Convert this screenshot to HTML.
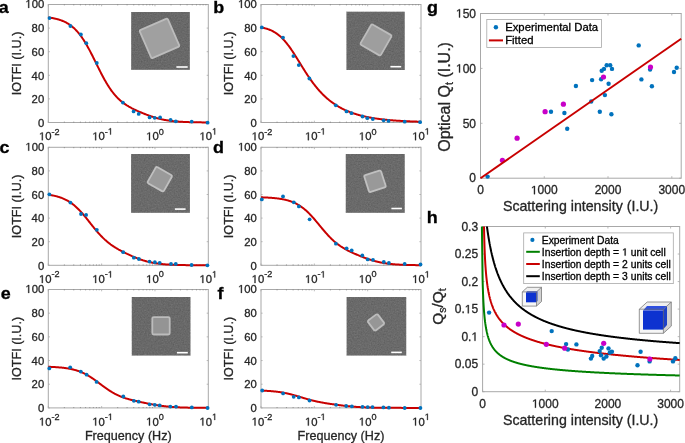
<!DOCTYPE html>
<html><head><meta charset="utf-8"><style>
html,body{margin:0;padding:0;background:#fff;}
body{width:685px;height:443px;overflow:hidden;}
svg{display:block;will-change:transform;}
text{font-family:"Liberation Sans", sans-serif;stroke:currentColor;stroke-width:0.3px;}
body{-webkit-font-smoothing:antialiased;}
</style></head><body>
<svg width="685" height="443" viewBox="0 0 685 443">
<defs><filter id="bl" x="-20%" y="-20%" width="140%" height="140%"><feGaussianBlur stdDeviation="0.75"/></filter><filter id="nz" x="0" y="0" width="100%" height="100%" color-interpolation-filters="sRGB"><feTurbulence type="fractalNoise" baseFrequency="0.7" numOctaves="2" seed="4"/><feColorMatrix type="matrix" values="0.33 0.33 0.33 0 0 0.33 0.33 0.33 0 0 0.33 0.33 0.33 0 0 0 0 0 0 0.2"/></filter></defs>
<rect width="685" height="443" fill="#fff"/>
<rect x="48.3" y="4.5" width="160" height="118" fill="none" stroke="#a8a8a8" stroke-width="1"/>
<path d="M48.3 122.5h1.6M208.3 122.5h-1.6M48.3 98.9h1.6M208.3 98.9h-1.6M48.3 75.3h1.6M208.3 75.3h-1.6M48.3 51.7h1.6M208.3 51.7h-1.6M48.3 28.1h1.6M208.3 28.1h-1.6M48.3 4.5h1.6M208.3 4.5h-1.6M48.3 122.5v-1.8M48.3 4.5v1.8M101.63 122.5v-1.8M101.63 4.5v1.8M154.97 122.5v-1.8M154.97 4.5v1.8" stroke="#a8a8a8" stroke-width="0.8" fill="none"/>
<path d="M64.35 122.7v-1.1M64.35 4.3v1.1M73.75 122.7v-1.1M73.75 4.3v1.1M80.41 122.7v-1.1M80.41 4.3v1.1M85.58 122.7v-1.1M85.58 4.3v1.1M89.8 122.7v-1.1M89.8 4.3v1.1M93.37 122.7v-1.1M93.37 4.3v1.1M96.46 122.7v-1.1M96.46 4.3v1.1M99.19 122.7v-1.1M99.19 4.3v1.1M117.69 122.7v-1.1M117.69 4.3v1.1M127.08 122.7v-1.1M127.08 4.3v1.1M133.74 122.7v-1.1M133.74 4.3v1.1M138.91 122.7v-1.1M138.91 4.3v1.1M143.13 122.7v-1.1M143.13 4.3v1.1M146.71 122.7v-1.1M146.71 4.3v1.1M149.8 122.7v-1.1M149.8 4.3v1.1M152.53 122.7v-1.1M152.53 4.3v1.1M171.02 122.7v-1.1M171.02 4.3v1.1M180.41 122.7v-1.1M180.41 4.3v1.1M187.08 122.7v-1.1M187.08 4.3v1.1M192.25 122.7v-1.1M192.25 4.3v1.1M196.47 122.7v-1.1M196.47 4.3v1.1M200.04 122.7v-1.1M200.04 4.3v1.1M203.13 122.7v-1.1M203.13 4.3v1.1M205.86 122.7v-1.1M205.86 4.3v1.1" stroke="#7c7c7c" stroke-width="0.7" fill="none"/>
<text x="44.2" y="126.7" font-size="11.3" text-anchor="end" font-weight="normal" fill="#262626" color="#262626" >0</text>
<text x="44.2" y="103.1" font-size="11.3" text-anchor="end" font-weight="normal" fill="#262626" color="#262626" >20</text>
<text x="44.2" y="79.5" font-size="11.3" text-anchor="end" font-weight="normal" fill="#262626" color="#262626" >40</text>
<text x="44.2" y="55.9" font-size="11.3" text-anchor="end" font-weight="normal" fill="#262626" color="#262626" >60</text>
<text x="44.2" y="32.3" font-size="11.3" text-anchor="end" font-weight="normal" fill="#262626" color="#262626" >80</text>
<text x="25.35" y="7.9" font-size="11.3" font-weight="normal" fill="#262626" color="#262626" > 00</text>
<path d="M515 0L515 1237L197 1010L197 1180L530 1409L696 1409L696 0Z" transform="translate(25.35,7.9) scale(0.00552,-0.00552)" fill="#262626" stroke="#262626" stroke-width="0.3" vector-effect="non-scaling-stroke"/>
<text x="38.97" y="140.2" font-size="11.3" font-weight="normal" fill="#262626" color="#262626" > 0</text>
<path d="M515 0L515 1237L197 1010L197 1180L530 1409L696 1409L696 0Z" transform="translate(38.97,140.2) scale(0.00552,-0.00552)" fill="#262626" stroke="#262626" stroke-width="0.3" vector-effect="non-scaling-stroke"/>
<text x="51.54" y="134.6" font-size="9.1" text-anchor="start" font-weight="normal" fill="#262626" color="#262626" >-2</text>
<text x="92.31" y="140.2" font-size="11.3" font-weight="normal" fill="#262626" color="#262626" > 0</text>
<path d="M515 0L515 1237L197 1010L197 1180L530 1409L696 1409L696 0Z" transform="translate(92.31,140.2) scale(0.00552,-0.00552)" fill="#262626" stroke="#262626" stroke-width="0.3" vector-effect="non-scaling-stroke"/>
<text x="104.87" y="134.6" font-size="9.1" font-weight="normal" fill="#262626" color="#262626" >- </text>
<path d="M515 0L515 1237L197 1010L197 1180L530 1409L696 1409L696 0Z" transform="translate(107.9,134.6) scale(0.00444,-0.00444)" fill="#262626" stroke="#262626" stroke-width="0.3" vector-effect="non-scaling-stroke"/>
<text x="146.15" y="140.2" font-size="11.3" font-weight="normal" fill="#262626" color="#262626" > 0</text>
<path d="M515 0L515 1237L197 1010L197 1180L530 1409L696 1409L696 0Z" transform="translate(146.15,140.2) scale(0.00552,-0.00552)" fill="#262626" stroke="#262626" stroke-width="0.3" vector-effect="non-scaling-stroke"/>
<text x="158.72" y="134.6" font-size="9.1" text-anchor="start" font-weight="normal" fill="#262626" color="#262626" >0</text>
<text x="199.49" y="140.2" font-size="11.3" font-weight="normal" fill="#262626" color="#262626" > 0</text>
<path d="M515 0L515 1237L197 1010L197 1180L530 1409L696 1409L696 0Z" transform="translate(199.49,140.2) scale(0.00552,-0.00552)" fill="#262626" stroke="#262626" stroke-width="0.3" vector-effect="non-scaling-stroke"/>
<text x="212.05" y="134.6" font-size="9.1" font-weight="normal" fill="#262626" color="#262626" > </text>
<path d="M515 0L515 1237L197 1010L197 1180L530 1409L696 1409L696 0Z" transform="translate(212.05,134.6) scale(0.00444,-0.00444)" fill="#262626" stroke="#262626" stroke-width="0.3" vector-effect="non-scaling-stroke"/>
<text x="0" y="0" font-size="12.6" text-anchor="middle" fill="#262626" color="#262626" transform="translate(20.6,63.5) rotate(-90)">IOTFI (I.U.)</text>
<rect x="131.2" y="12" width="58.6" height="57.8" fill="#636363"/>
<rect x="131.2" y="12" width="58.6" height="57.8" fill="#808080" filter="url(#nz)"/>
<g filter="url(#bl)"><rect x="-15.3" y="-15.3" width="30.6" height="30.6" rx="1.5" fill="#a0a0a0" stroke="#bcbcbc" stroke-width="1.8" transform="translate(159.5,38.4) rotate(-23.5)"/></g>
<rect x="176.4" y="66.2" width="11.3" height="1.6" fill="#ffffff"/>
<polyline points="48.3,17.45 48.83,17.52 49.37,17.59 49.9,17.66 50.43,17.74 50.97,17.83 51.5,17.92 52.03,18.01 52.57,18.1 53.1,18.2 53.63,18.31 54.17,18.41 54.7,18.53 55.23,18.65 55.77,18.77 56.3,18.9 56.83,19.03 57.37,19.17 57.9,19.32 58.43,19.47 58.97,19.63 59.5,19.8 60.03,19.98 60.57,20.16 61.1,20.35 61.63,20.55 62.17,20.75 62.7,20.97 63.23,21.19 63.77,21.42 64.3,21.67 64.83,21.92 65.37,22.18 65.9,22.45 66.43,22.74 66.97,23.04 67.5,23.34 68.03,23.66 68.57,24 69.1,24.34 69.63,24.7 70.17,25.08 70.7,25.46 71.23,25.86 71.77,26.28 72.3,26.71 72.83,27.16 73.37,27.62 73.9,28.1 74.43,28.6 74.97,29.11 75.5,29.64 76.03,30.19 76.57,30.75 77.1,31.34 77.63,31.94 78.17,32.56 78.7,33.2 79.23,33.86 79.77,34.53 80.3,35.23 80.83,35.95 81.37,36.68 81.9,37.43 82.43,38.21 82.97,39 83.5,39.81 84.03,40.64 84.57,41.49 85.1,42.35 85.63,43.24 86.17,44.14 86.7,45.05 87.23,45.99 87.77,46.94 88.3,47.9 88.83,48.88 89.37,49.87 89.9,50.88 90.43,51.89 90.97,52.92 91.5,53.96 92.03,55.01 92.57,56.06 93.1,57.12 93.63,58.19 94.17,59.27 94.7,60.35 95.23,61.43 95.77,62.51 96.3,63.6 96.83,64.68 97.37,65.76 97.9,66.84 98.43,67.92 98.97,68.99 99.5,70.05 100.03,71.11 100.57,72.16 101.1,73.2 101.63,74.23 102.17,75.25 102.7,76.26 103.23,77.25 103.77,78.24 104.3,79.21 104.83,80.16 105.37,81.1 105.9,82.03 106.43,82.93 106.97,83.82 107.5,84.7 108.03,85.56 108.57,86.4 109.1,87.22 109.63,88.02 110.17,88.81 110.7,89.58 111.23,90.33 111.77,91.06 112.3,91.77 112.83,92.47 113.37,93.15 113.9,93.81 114.43,94.45 114.97,95.08 115.5,95.69 116.03,96.28 116.57,96.86 117.1,97.42 117.63,97.97 118.17,98.5 118.7,99.01 119.23,99.51 119.77,100 120.3,100.47 120.83,100.93 121.37,101.38 121.9,101.82 122.43,102.24 122.97,102.65 123.5,103.05 124.03,103.44 124.57,103.82 125.1,104.19 125.63,104.55 126.17,104.91 126.7,105.25 127.23,105.59 127.77,105.91 128.3,106.23 128.83,106.55 129.37,106.85 129.9,107.15 130.43,107.45 130.97,107.74 131.5,108.02 132.03,108.3 132.57,108.57 133.1,108.84 133.63,109.11 134.17,109.37 134.7,109.63 135.23,109.88 135.77,110.13 136.3,110.38 136.83,110.62 137.37,110.87 137.9,111.1 138.43,111.34 138.97,111.58 139.5,111.81 140.03,112.04 140.57,112.26 141.1,112.49 141.63,112.71 142.17,112.93 142.7,113.15 143.23,113.37 143.77,113.59 144.3,113.8 144.83,114.01 145.37,114.22 145.9,114.43 146.43,114.63 146.97,114.83 147.5,115.03 148.03,115.23 148.57,115.43 149.1,115.62 149.63,115.81 150.17,116 150.7,116.18 151.23,116.37 151.77,116.55 152.3,116.72 152.83,116.9 153.37,117.07 153.9,117.23 154.43,117.4 154.97,117.56 155.5,117.72 156.03,117.87 156.57,118.02 157.1,118.17 157.63,118.32 158.17,118.46 158.7,118.6 159.23,118.73 159.77,118.86 160.3,118.99 160.83,119.12 161.37,119.24 161.9,119.36 162.43,119.47 162.97,119.58 163.5,119.69 164.03,119.8 164.57,119.9 165.1,120 165.63,120.09 166.17,120.18 166.7,120.27 167.23,120.36 167.77,120.44 168.3,120.53 168.83,120.6 169.37,120.68 169.9,120.75 170.43,120.82 170.97,120.89 171.5,120.96 172.03,121.02 172.57,121.08 173.1,121.14 173.63,121.19 174.17,121.25 174.7,121.3 175.23,121.35 175.77,121.4 176.3,121.44 176.83,121.49 177.37,121.53 177.9,121.57 178.43,121.61 178.97,121.65 179.5,121.69 180.03,121.72 180.57,121.75 181.1,121.79 181.63,121.82 182.17,121.85 182.7,121.87 183.23,121.9 183.77,121.93 184.3,121.95 184.83,121.98 185.37,122 185.9,122.02 186.43,122.04 186.97,122.06 187.5,122.08 188.03,122.1 188.57,122.12 189.1,122.13 189.63,122.15 190.17,122.17 190.7,122.18 191.23,122.19 191.77,122.21 192.3,122.22 192.83,122.23 193.37,122.24 193.9,122.26 194.43,122.27 194.97,122.28 195.5,122.29 196.03,122.3 196.57,122.31 197.1,122.31 197.63,122.32 198.17,122.33 198.7,122.34 199.23,122.35 199.77,122.35 200.3,122.36 200.83,122.36 201.37,122.37 201.9,122.38 202.43,122.38 202.97,122.39 203.5,122.39 204.03,122.4 204.57,122.4 205.1,122.41 205.63,122.41 206.17,122.41 206.7,122.42 207.23,122.42 207.77,122.43 208.3,122.43" fill="none" stroke="#c80000" stroke-width="2" stroke-linejoin="round"/>
<circle cx="49.5" cy="18.1" r="1.9" fill="#0072bd"/>
<circle cx="70.4" cy="26" r="1.9" fill="#0072bd"/>
<circle cx="80.9" cy="34.5" r="1.9" fill="#0072bd"/>
<circle cx="86.3" cy="43.2" r="1.9" fill="#0072bd"/>
<circle cx="96.8" cy="63" r="1.9" fill="#0072bd"/>
<circle cx="122.9" cy="102.6" r="1.9" fill="#0072bd"/>
<circle cx="133.6" cy="111.4" r="1.9" fill="#0072bd"/>
<circle cx="138.7" cy="113.9" r="1.9" fill="#0072bd"/>
<circle cx="149.6" cy="117.4" r="1.9" fill="#0072bd"/>
<circle cx="154.7" cy="117.8" r="1.9" fill="#0072bd"/>
<circle cx="160.1" cy="117.4" r="1.9" fill="#0072bd"/>
<circle cx="170.6" cy="119.8" r="1.9" fill="#0072bd"/>
<circle cx="175.8" cy="121.3" r="1.9" fill="#0072bd"/>
<circle cx="191.7" cy="121.6" r="1.9" fill="#0072bd"/>
<circle cx="207.6" cy="122.7" r="1.9" fill="#0072bd"/>
<text x="0" y="0" font-size="16.6" font-weight="bold" fill="#000" color="#000" transform="translate(-1.2,12.6) scale(1.08,1)">a</text>
<rect x="261" y="4.5" width="160" height="118" fill="none" stroke="#a8a8a8" stroke-width="1"/>
<path d="M261 122.5h1.6M421 122.5h-1.6M261 98.9h1.6M421 98.9h-1.6M261 75.3h1.6M421 75.3h-1.6M261 51.7h1.6M421 51.7h-1.6M261 28.1h1.6M421 28.1h-1.6M261 4.5h1.6M421 4.5h-1.6M261 122.5v-1.8M261 4.5v1.8M314.33 122.5v-1.8M314.33 4.5v1.8M367.67 122.5v-1.8M367.67 4.5v1.8" stroke="#a8a8a8" stroke-width="0.8" fill="none"/>
<path d="M277.05 122.7v-1.1M277.05 4.3v1.1M286.45 122.7v-1.1M286.45 4.3v1.1M293.11 122.7v-1.1M293.11 4.3v1.1M298.28 122.7v-1.1M298.28 4.3v1.1M302.5 122.7v-1.1M302.5 4.3v1.1M306.07 122.7v-1.1M306.07 4.3v1.1M309.16 122.7v-1.1M309.16 4.3v1.1M311.89 122.7v-1.1M311.89 4.3v1.1M330.39 122.7v-1.1M330.39 4.3v1.1M339.78 122.7v-1.1M339.78 4.3v1.1M346.44 122.7v-1.1M346.44 4.3v1.1M351.61 122.7v-1.1M351.61 4.3v1.1M355.83 122.7v-1.1M355.83 4.3v1.1M359.41 122.7v-1.1M359.41 4.3v1.1M362.5 122.7v-1.1M362.5 4.3v1.1M365.23 122.7v-1.1M365.23 4.3v1.1M383.72 122.7v-1.1M383.72 4.3v1.1M393.11 122.7v-1.1M393.11 4.3v1.1M399.78 122.7v-1.1M399.78 4.3v1.1M404.95 122.7v-1.1M404.95 4.3v1.1M409.17 122.7v-1.1M409.17 4.3v1.1M412.74 122.7v-1.1M412.74 4.3v1.1M415.83 122.7v-1.1M415.83 4.3v1.1M418.56 122.7v-1.1M418.56 4.3v1.1" stroke="#7c7c7c" stroke-width="0.7" fill="none"/>
<text x="256.9" y="126.7" font-size="11.3" text-anchor="end" font-weight="normal" fill="#262626" color="#262626" >0</text>
<text x="256.9" y="103.1" font-size="11.3" text-anchor="end" font-weight="normal" fill="#262626" color="#262626" >20</text>
<text x="256.9" y="79.5" font-size="11.3" text-anchor="end" font-weight="normal" fill="#262626" color="#262626" >40</text>
<text x="256.9" y="55.9" font-size="11.3" text-anchor="end" font-weight="normal" fill="#262626" color="#262626" >60</text>
<text x="256.9" y="32.3" font-size="11.3" text-anchor="end" font-weight="normal" fill="#262626" color="#262626" >80</text>
<text x="238.05" y="7.9" font-size="11.3" font-weight="normal" fill="#262626" color="#262626" > 00</text>
<path d="M515 0L515 1237L197 1010L197 1180L530 1409L696 1409L696 0Z" transform="translate(238.05,7.9) scale(0.00552,-0.00552)" fill="#262626" stroke="#262626" stroke-width="0.3" vector-effect="non-scaling-stroke"/>
<text x="251.67" y="140.2" font-size="11.3" font-weight="normal" fill="#262626" color="#262626" > 0</text>
<path d="M515 0L515 1237L197 1010L197 1180L530 1409L696 1409L696 0Z" transform="translate(251.67,140.2) scale(0.00552,-0.00552)" fill="#262626" stroke="#262626" stroke-width="0.3" vector-effect="non-scaling-stroke"/>
<text x="264.24" y="134.6" font-size="9.1" text-anchor="start" font-weight="normal" fill="#262626" color="#262626" >-2</text>
<text x="305.01" y="140.2" font-size="11.3" font-weight="normal" fill="#262626" color="#262626" > 0</text>
<path d="M515 0L515 1237L197 1010L197 1180L530 1409L696 1409L696 0Z" transform="translate(305.01,140.2) scale(0.00552,-0.00552)" fill="#262626" stroke="#262626" stroke-width="0.3" vector-effect="non-scaling-stroke"/>
<text x="317.57" y="134.6" font-size="9.1" font-weight="normal" fill="#262626" color="#262626" >- </text>
<path d="M515 0L515 1237L197 1010L197 1180L530 1409L696 1409L696 0Z" transform="translate(320.6,134.6) scale(0.00444,-0.00444)" fill="#262626" stroke="#262626" stroke-width="0.3" vector-effect="non-scaling-stroke"/>
<text x="358.85" y="140.2" font-size="11.3" font-weight="normal" fill="#262626" color="#262626" > 0</text>
<path d="M515 0L515 1237L197 1010L197 1180L530 1409L696 1409L696 0Z" transform="translate(358.85,140.2) scale(0.00552,-0.00552)" fill="#262626" stroke="#262626" stroke-width="0.3" vector-effect="non-scaling-stroke"/>
<text x="371.42" y="134.6" font-size="9.1" text-anchor="start" font-weight="normal" fill="#262626" color="#262626" >0</text>
<text x="412.19" y="140.2" font-size="11.3" font-weight="normal" fill="#262626" color="#262626" > 0</text>
<path d="M515 0L515 1237L197 1010L197 1180L530 1409L696 1409L696 0Z" transform="translate(412.19,140.2) scale(0.00552,-0.00552)" fill="#262626" stroke="#262626" stroke-width="0.3" vector-effect="non-scaling-stroke"/>
<text x="424.75" y="134.6" font-size="9.1" font-weight="normal" fill="#262626" color="#262626" > </text>
<path d="M515 0L515 1237L197 1010L197 1180L530 1409L696 1409L696 0Z" transform="translate(424.75,134.6) scale(0.00444,-0.00444)" fill="#262626" stroke="#262626" stroke-width="0.3" vector-effect="non-scaling-stroke"/>
<text x="0" y="0" font-size="12.6" text-anchor="middle" fill="#262626" color="#262626" transform="translate(233.3,63.5) rotate(-90)">IOTFI (I.U.)</text>
<rect x="346.5" y="11.8" width="58.2" height="58.2" fill="#646464"/>
<rect x="346.5" y="11.8" width="58.2" height="58.2" fill="#808080" filter="url(#nz)"/>
<g filter="url(#bl)"><rect x="-11.7" y="-11.7" width="23.4" height="23.4" rx="1.5" fill="#9e9e9e" stroke="#bcbcbc" stroke-width="1.8" transform="translate(376,39.9) rotate(30.0)"/></g>
<rect x="390.4" y="65.9" width="10.8" height="1.6" fill="#ffffff"/>
<polyline points="261,27.4 261.53,27.5 262.07,27.61 262.6,27.72 263.13,27.83 263.67,27.95 264.2,28.08 264.73,28.22 265.27,28.36 265.8,28.51 266.33,28.66 266.87,28.82 267.4,28.99 267.93,29.17 268.47,29.36 269,29.56 269.53,29.76 270.07,29.98 270.6,30.2 271.13,30.44 271.67,30.69 272.2,30.94 272.73,31.21 273.27,31.49 273.8,31.78 274.33,32.09 274.87,32.41 275.4,32.74 275.93,33.08 276.47,33.44 277,33.81 277.53,34.2 278.07,34.6 278.6,35.02 279.13,35.45 279.67,35.9 280.2,36.36 280.73,36.84 281.27,37.34 281.8,37.85 282.33,38.38 282.87,38.92 283.4,39.48 283.93,40.06 284.47,40.65 285,41.26 285.53,41.88 286.07,42.52 286.6,43.18 287.13,43.85 287.67,44.53 288.2,45.23 288.73,45.94 289.27,46.67 289.8,47.41 290.33,48.16 290.87,48.93 291.4,49.71 291.93,50.49 292.47,51.29 293,52.1 293.53,52.91 294.07,53.74 294.6,54.57 295.13,55.41 295.67,56.25 296.2,57.1 296.73,57.95 297.27,58.81 297.8,59.67 298.33,60.54 298.87,61.4 299.4,62.27 299.93,63.13 300.47,64 301,64.86 301.53,65.72 302.07,66.58 302.6,67.44 303.13,68.3 303.67,69.15 304.2,69.99 304.73,70.83 305.27,71.67 305.8,72.49 306.33,73.32 306.87,74.13 307.4,74.94 307.93,75.74 308.47,76.53 309,77.32 309.53,78.1 310.07,78.86 310.6,79.62 311.13,80.37 311.67,81.12 312.2,81.85 312.73,82.57 313.27,83.28 313.8,83.99 314.33,84.68 314.87,85.36 315.4,86.04 315.93,86.7 316.47,87.36 317,88 317.53,88.64 318.07,89.26 318.6,89.88 319.13,90.48 319.67,91.08 320.2,91.67 320.73,92.24 321.27,92.81 321.8,93.37 322.33,93.92 322.87,94.45 323.4,94.98 323.93,95.5 324.47,96.02 325,96.52 325.53,97.01 326.07,97.5 326.6,97.97 327.13,98.44 327.67,98.9 328.2,99.35 328.73,99.8 329.27,100.23 329.8,100.66 330.33,101.08 330.87,101.49 331.4,101.89 331.93,102.29 332.47,102.68 333,103.06 333.53,103.43 334.07,103.8 334.6,104.16 335.13,104.52 335.67,104.87 336.2,105.21 336.73,105.54 337.27,105.87 337.8,106.19 338.33,106.51 338.87,106.82 339.4,107.12 339.93,107.42 340.47,107.71 341,108 341.53,108.28 342.07,108.56 342.6,108.83 343.13,109.09 343.67,109.35 344.2,109.61 344.73,109.86 345.27,110.1 345.8,110.35 346.33,110.58 346.87,110.81 347.4,111.04 347.93,111.26 348.47,111.48 349,111.7 349.53,111.91 350.07,112.11 350.6,112.32 351.13,112.51 351.67,112.71 352.2,112.9 352.73,113.09 353.27,113.27 353.8,113.45 354.33,113.63 354.87,113.8 355.4,113.97 355.93,114.13 356.47,114.3 357,114.46 357.53,114.61 358.07,114.77 358.6,114.92 359.13,115.07 359.67,115.21 360.2,115.35 360.73,115.49 361.27,115.63 361.8,115.76 362.33,115.89 362.87,116.02 363.4,116.15 363.93,116.27 364.47,116.39 365,116.51 365.53,116.63 366.07,116.74 366.6,116.86 367.13,116.97 367.67,117.07 368.2,117.18 368.73,117.28 369.27,117.39 369.8,117.49 370.33,117.58 370.87,117.68 371.4,117.77 371.93,117.87 372.47,117.96 373,118.04 373.53,118.13 374.07,118.22 374.6,118.3 375.13,118.38 375.67,118.46 376.2,118.54 376.73,118.62 377.27,118.69 377.8,118.77 378.33,118.84 378.87,118.91 379.4,118.98 379.93,119.05 380.47,119.12 381,119.18 381.53,119.25 382.07,119.31 382.6,119.37 383.13,119.44 383.67,119.5 384.2,119.55 384.73,119.61 385.27,119.67 385.8,119.72 386.33,119.78 386.87,119.83 387.4,119.88 387.93,119.93 388.47,119.98 389,120.03 389.53,120.08 390.07,120.13 390.6,120.17 391.13,120.22 391.67,120.26 392.2,120.31 392.73,120.35 393.27,120.39 393.8,120.43 394.33,120.47 394.87,120.51 395.4,120.55 395.93,120.59 396.47,120.63 397,120.66 397.53,120.7 398.07,120.73 398.6,120.77 399.13,120.8 399.67,120.84 400.2,120.87 400.73,120.9 401.27,120.93 401.8,120.96 402.33,120.99 402.87,121.02 403.4,121.05 403.93,121.08 404.47,121.11 405,121.13 405.53,121.16 406.07,121.19 406.6,121.21 407.13,121.24 407.67,121.26 408.2,121.29 408.73,121.31 409.27,121.33 409.8,121.36 410.33,121.38 410.87,121.4 411.4,121.42 411.93,121.44 412.47,121.46 413,121.48 413.53,121.5 414.07,121.52 414.6,121.54 415.13,121.56 415.67,121.58 416.2,121.6 416.73,121.61 417.27,121.63 417.8,121.65 418.33,121.67 418.87,121.68 419.4,121.7 419.93,121.71 420.47,121.73 421,121.74" fill="none" stroke="#c80000" stroke-width="2" stroke-linejoin="round"/>
<circle cx="261.8" cy="27.4" r="1.9" fill="#0072bd"/>
<circle cx="283" cy="37.6" r="1.9" fill="#0072bd"/>
<circle cx="293.4" cy="56.1" r="1.9" fill="#0072bd"/>
<circle cx="298.8" cy="65.1" r="1.9" fill="#0072bd"/>
<circle cx="309.4" cy="78.5" r="1.9" fill="#0072bd"/>
<circle cx="335.8" cy="105.3" r="1.9" fill="#0072bd"/>
<circle cx="346.5" cy="111.4" r="1.9" fill="#0072bd"/>
<circle cx="351.5" cy="113.2" r="1.9" fill="#0072bd"/>
<circle cx="362.5" cy="116.5" r="1.9" fill="#0072bd"/>
<circle cx="367.3" cy="118.2" r="1.9" fill="#0072bd"/>
<circle cx="372.8" cy="119" r="1.9" fill="#0072bd"/>
<circle cx="383.6" cy="120.3" r="1.9" fill="#0072bd"/>
<circle cx="388.5" cy="120.9" r="1.9" fill="#0072bd"/>
<circle cx="404.7" cy="121.7" r="1.9" fill="#0072bd"/>
<circle cx="420.1" cy="122.2" r="1.9" fill="#0072bd"/>
<text x="0" y="0" font-size="16.6" font-weight="bold" fill="#000" color="#000" transform="translate(213.2,13.2) scale(1.08,1)">b</text>
<rect x="48.3" y="147.3" width="160" height="118" fill="none" stroke="#a8a8a8" stroke-width="1"/>
<path d="M48.3 265.3h1.6M208.3 265.3h-1.6M48.3 241.7h1.6M208.3 241.7h-1.6M48.3 218.1h1.6M208.3 218.1h-1.6M48.3 194.5h1.6M208.3 194.5h-1.6M48.3 170.9h1.6M208.3 170.9h-1.6M48.3 147.3h1.6M208.3 147.3h-1.6M48.3 265.3v-1.8M48.3 147.3v1.8M101.63 265.3v-1.8M101.63 147.3v1.8M154.97 265.3v-1.8M154.97 147.3v1.8" stroke="#a8a8a8" stroke-width="0.8" fill="none"/>
<path d="M64.35 265.5v-1.1M64.35 147.1v1.1M73.75 265.5v-1.1M73.75 147.1v1.1M80.41 265.5v-1.1M80.41 147.1v1.1M85.58 265.5v-1.1M85.58 147.1v1.1M89.8 265.5v-1.1M89.8 147.1v1.1M93.37 265.5v-1.1M93.37 147.1v1.1M96.46 265.5v-1.1M96.46 147.1v1.1M99.19 265.5v-1.1M99.19 147.1v1.1M117.69 265.5v-1.1M117.69 147.1v1.1M127.08 265.5v-1.1M127.08 147.1v1.1M133.74 265.5v-1.1M133.74 147.1v1.1M138.91 265.5v-1.1M138.91 147.1v1.1M143.13 265.5v-1.1M143.13 147.1v1.1M146.71 265.5v-1.1M146.71 147.1v1.1M149.8 265.5v-1.1M149.8 147.1v1.1M152.53 265.5v-1.1M152.53 147.1v1.1M171.02 265.5v-1.1M171.02 147.1v1.1M180.41 265.5v-1.1M180.41 147.1v1.1M187.08 265.5v-1.1M187.08 147.1v1.1M192.25 265.5v-1.1M192.25 147.1v1.1M196.47 265.5v-1.1M196.47 147.1v1.1M200.04 265.5v-1.1M200.04 147.1v1.1M203.13 265.5v-1.1M203.13 147.1v1.1M205.86 265.5v-1.1M205.86 147.1v1.1" stroke="#7c7c7c" stroke-width="0.7" fill="none"/>
<text x="44.2" y="269.5" font-size="11.3" text-anchor="end" font-weight="normal" fill="#262626" color="#262626" >0</text>
<text x="44.2" y="245.9" font-size="11.3" text-anchor="end" font-weight="normal" fill="#262626" color="#262626" >20</text>
<text x="44.2" y="222.3" font-size="11.3" text-anchor="end" font-weight="normal" fill="#262626" color="#262626" >40</text>
<text x="44.2" y="198.7" font-size="11.3" text-anchor="end" font-weight="normal" fill="#262626" color="#262626" >60</text>
<text x="44.2" y="175.1" font-size="11.3" text-anchor="end" font-weight="normal" fill="#262626" color="#262626" >80</text>
<text x="25.35" y="150.7" font-size="11.3" font-weight="normal" fill="#262626" color="#262626" > 00</text>
<path d="M515 0L515 1237L197 1010L197 1180L530 1409L696 1409L696 0Z" transform="translate(25.35,150.7) scale(0.00552,-0.00552)" fill="#262626" stroke="#262626" stroke-width="0.3" vector-effect="non-scaling-stroke"/>
<text x="38.97" y="283" font-size="11.3" font-weight="normal" fill="#262626" color="#262626" > 0</text>
<path d="M515 0L515 1237L197 1010L197 1180L530 1409L696 1409L696 0Z" transform="translate(38.97,283) scale(0.00552,-0.00552)" fill="#262626" stroke="#262626" stroke-width="0.3" vector-effect="non-scaling-stroke"/>
<text x="51.54" y="277.4" font-size="9.1" text-anchor="start" font-weight="normal" fill="#262626" color="#262626" >-2</text>
<text x="92.31" y="283" font-size="11.3" font-weight="normal" fill="#262626" color="#262626" > 0</text>
<path d="M515 0L515 1237L197 1010L197 1180L530 1409L696 1409L696 0Z" transform="translate(92.31,283) scale(0.00552,-0.00552)" fill="#262626" stroke="#262626" stroke-width="0.3" vector-effect="non-scaling-stroke"/>
<text x="104.87" y="277.4" font-size="9.1" font-weight="normal" fill="#262626" color="#262626" >- </text>
<path d="M515 0L515 1237L197 1010L197 1180L530 1409L696 1409L696 0Z" transform="translate(107.9,277.4) scale(0.00444,-0.00444)" fill="#262626" stroke="#262626" stroke-width="0.3" vector-effect="non-scaling-stroke"/>
<text x="146.15" y="283" font-size="11.3" font-weight="normal" fill="#262626" color="#262626" > 0</text>
<path d="M515 0L515 1237L197 1010L197 1180L530 1409L696 1409L696 0Z" transform="translate(146.15,283) scale(0.00552,-0.00552)" fill="#262626" stroke="#262626" stroke-width="0.3" vector-effect="non-scaling-stroke"/>
<text x="158.72" y="277.4" font-size="9.1" text-anchor="start" font-weight="normal" fill="#262626" color="#262626" >0</text>
<text x="199.49" y="283" font-size="11.3" font-weight="normal" fill="#262626" color="#262626" > 0</text>
<path d="M515 0L515 1237L197 1010L197 1180L530 1409L696 1409L696 0Z" transform="translate(199.49,283) scale(0.00552,-0.00552)" fill="#262626" stroke="#262626" stroke-width="0.3" vector-effect="non-scaling-stroke"/>
<text x="212.05" y="277.4" font-size="9.1" font-weight="normal" fill="#262626" color="#262626" > </text>
<path d="M515 0L515 1237L197 1010L197 1180L530 1409L696 1409L696 0Z" transform="translate(212.05,277.4) scale(0.00444,-0.00444)" fill="#262626" stroke="#262626" stroke-width="0.3" vector-effect="non-scaling-stroke"/>
<text x="0" y="0" font-size="12.6" text-anchor="middle" fill="#262626" color="#262626" transform="translate(20.6,206.3) rotate(-90)">IOTFI (I.U.)</text>
<rect x="131.1" y="154" width="58.8" height="58.8" fill="#656565"/>
<rect x="131.1" y="154" width="58.8" height="58.8" fill="#808080" filter="url(#nz)"/>
<g filter="url(#bl)"><rect x="-9.3" y="-9.3" width="18.6" height="18.6" rx="1.5" fill="#9a9a9a" stroke="#c0c0c0" stroke-width="1.8" transform="translate(159.8,179.2) rotate(29.6)"/></g>
<rect x="174.9" y="208.3" width="10.7" height="1.6" fill="#ffffff"/>
<polyline points="48.3,194.75 48.83,194.82 49.37,194.9 49.9,194.98 50.43,195.06 50.97,195.15 51.5,195.24 52.03,195.33 52.57,195.43 53.1,195.54 53.63,195.64 54.17,195.76 54.7,195.87 55.23,196 55.77,196.12 56.3,196.26 56.83,196.39 57.37,196.54 57.9,196.69 58.43,196.85 58.97,197.01 59.5,197.18 60.03,197.35 60.57,197.54 61.1,197.73 61.63,197.93 62.17,198.13 62.7,198.34 63.23,198.57 63.77,198.8 64.3,199.04 64.83,199.29 65.37,199.54 65.9,199.81 66.43,200.09 66.97,200.37 67.5,200.67 68.03,200.98 68.57,201.29 69.1,201.62 69.63,201.96 70.17,202.31 70.7,202.67 71.23,203.04 71.77,203.43 72.3,203.82 72.83,204.23 73.37,204.65 73.9,205.08 74.43,205.52 74.97,205.98 75.5,206.44 76.03,206.92 76.57,207.41 77.1,207.91 77.63,208.43 78.17,208.95 78.7,209.49 79.23,210.03 79.77,210.59 80.3,211.16 80.83,211.74 81.37,212.33 81.9,212.92 82.43,213.53 82.97,214.15 83.5,214.77 84.03,215.4 84.57,216.04 85.1,216.68 85.63,217.33 86.17,217.99 86.7,218.65 87.23,219.31 87.77,219.98 88.3,220.65 88.83,221.33 89.37,222 89.9,222.68 90.43,223.35 90.97,224.03 91.5,224.7 92.03,225.37 92.57,226.04 93.1,226.71 93.63,227.37 94.17,228.03 94.7,228.68 95.23,229.33 95.77,229.97 96.3,230.61 96.83,231.24 97.37,231.86 97.9,232.47 98.43,233.08 98.97,233.68 99.5,234.27 100.03,234.85 100.57,235.42 101.1,235.98 101.63,236.53 102.17,237.07 102.7,237.61 103.23,238.13 103.77,238.64 104.3,239.14 104.83,239.64 105.37,240.12 105.9,240.6 106.43,241.06 106.97,241.51 107.5,241.96 108.03,242.4 108.57,242.82 109.1,243.24 109.63,243.65 110.17,244.05 110.7,244.45 111.23,244.83 111.77,245.21 112.3,245.58 112.83,245.94 113.37,246.3 113.9,246.65 114.43,246.99 114.97,247.33 115.5,247.66 116.03,247.99 116.57,248.31 117.1,248.63 117.63,248.94 118.17,249.24 118.7,249.55 119.23,249.84 119.77,250.14 120.3,250.43 120.83,250.72 121.37,251 121.9,251.28 122.43,251.56 122.97,251.83 123.5,252.1 124.03,252.37 124.57,252.64 125.1,252.9 125.63,253.17 126.17,253.43 126.7,253.68 127.23,253.94 127.77,254.19 128.3,254.44 128.83,254.69 129.37,254.94 129.9,255.18 130.43,255.42 130.97,255.66 131.5,255.9 132.03,256.14 132.57,256.37 133.1,256.6 133.63,256.83 134.17,257.05 134.7,257.27 135.23,257.49 135.77,257.71 136.3,257.92 136.83,258.13 137.37,258.34 137.9,258.54 138.43,258.74 138.97,258.94 139.5,259.14 140.03,259.33 140.57,259.51 141.1,259.7 141.63,259.88 142.17,260.05 142.7,260.23 143.23,260.39 143.77,260.56 144.3,260.72 144.83,260.88 145.37,261.03 145.9,261.18 146.43,261.32 146.97,261.47 147.5,261.6 148.03,261.74 148.57,261.87 149.1,261.99 149.63,262.12 150.17,262.24 150.7,262.35 151.23,262.46 151.77,262.57 152.3,262.68 152.83,262.78 153.37,262.88 153.9,262.97 154.43,263.06 154.97,263.15 155.5,263.24 156.03,263.32 156.57,263.4 157.1,263.48 157.63,263.55 158.17,263.62 158.7,263.69 159.23,263.76 159.77,263.82 160.3,263.88 160.83,263.94 161.37,264 161.9,264.05 162.43,264.1 162.97,264.15 163.5,264.2 164.03,264.25 164.57,264.29 165.1,264.34 165.63,264.38 166.17,264.42 166.7,264.46 167.23,264.49 167.77,264.53 168.3,264.56 168.83,264.59 169.37,264.62 169.9,264.65 170.43,264.68 170.97,264.71 171.5,264.73 172.03,264.76 172.57,264.78 173.1,264.8 173.63,264.83 174.17,264.85 174.7,264.87 175.23,264.89 175.77,264.9 176.3,264.92 176.83,264.94 177.37,264.95 177.9,264.97 178.43,264.98 178.97,265 179.5,265.01 180.03,265.02 180.57,265.04 181.1,265.05 181.63,265.06 182.17,265.07 182.7,265.08 183.23,265.09 183.77,265.1 184.3,265.11 184.83,265.12 185.37,265.12 185.9,265.13 186.43,265.14 186.97,265.15 187.5,265.15 188.03,265.16 188.57,265.17 189.1,265.17 189.63,265.18 190.17,265.18 190.7,265.19 191.23,265.19 191.77,265.2 192.3,265.2 192.83,265.21 193.37,265.21 193.9,265.22 194.43,265.22 194.97,265.22 195.5,265.23 196.03,265.23 196.57,265.23 197.1,265.24 197.63,265.24 198.17,265.24 198.7,265.24 199.23,265.25 199.77,265.25 200.3,265.25 200.83,265.25 201.37,265.26 201.9,265.26 202.43,265.26 202.97,265.26 203.5,265.26 204.03,265.26 204.57,265.27 205.1,265.27 205.63,265.27 206.17,265.27 206.7,265.27 207.23,265.27 207.77,265.27 208.3,265.28" fill="none" stroke="#c80000" stroke-width="2" stroke-linejoin="round"/>
<circle cx="49.4" cy="194.3" r="1.9" fill="#0072bd"/>
<circle cx="70.4" cy="202.6" r="1.9" fill="#0072bd"/>
<circle cx="81" cy="214" r="1.9" fill="#0072bd"/>
<circle cx="86.1" cy="214.9" r="1.9" fill="#0072bd"/>
<circle cx="96.8" cy="229.8" r="1.9" fill="#0072bd"/>
<circle cx="123.2" cy="252.2" r="1.9" fill="#0072bd"/>
<circle cx="133.8" cy="257.7" r="1.9" fill="#0072bd"/>
<circle cx="138.9" cy="259" r="1.9" fill="#0072bd"/>
<circle cx="149.5" cy="261.6" r="1.9" fill="#0072bd"/>
<circle cx="154.9" cy="262.2" r="1.9" fill="#0072bd"/>
<circle cx="159.7" cy="262.8" r="1.9" fill="#0072bd"/>
<circle cx="171" cy="263.9" r="1.9" fill="#0072bd"/>
<circle cx="175.8" cy="263.9" r="1.9" fill="#0072bd"/>
<circle cx="191.6" cy="265" r="1.9" fill="#0072bd"/>
<circle cx="207.4" cy="265.3" r="1.9" fill="#0072bd"/>
<text x="0" y="0" font-size="16.6" font-weight="bold" fill="#000" color="#000" transform="translate(-0.6,153.3) scale(1.08,1)">c</text>
<rect x="261" y="147.3" width="160" height="118" fill="none" stroke="#a8a8a8" stroke-width="1"/>
<path d="M261 265.3h1.6M421 265.3h-1.6M261 241.7h1.6M421 241.7h-1.6M261 218.1h1.6M421 218.1h-1.6M261 194.5h1.6M421 194.5h-1.6M261 170.9h1.6M421 170.9h-1.6M261 147.3h1.6M421 147.3h-1.6M261 265.3v-1.8M261 147.3v1.8M314.33 265.3v-1.8M314.33 147.3v1.8M367.67 265.3v-1.8M367.67 147.3v1.8" stroke="#a8a8a8" stroke-width="0.8" fill="none"/>
<path d="M277.05 265.5v-1.1M277.05 147.1v1.1M286.45 265.5v-1.1M286.45 147.1v1.1M293.11 265.5v-1.1M293.11 147.1v1.1M298.28 265.5v-1.1M298.28 147.1v1.1M302.5 265.5v-1.1M302.5 147.1v1.1M306.07 265.5v-1.1M306.07 147.1v1.1M309.16 265.5v-1.1M309.16 147.1v1.1M311.89 265.5v-1.1M311.89 147.1v1.1M330.39 265.5v-1.1M330.39 147.1v1.1M339.78 265.5v-1.1M339.78 147.1v1.1M346.44 265.5v-1.1M346.44 147.1v1.1M351.61 265.5v-1.1M351.61 147.1v1.1M355.83 265.5v-1.1M355.83 147.1v1.1M359.41 265.5v-1.1M359.41 147.1v1.1M362.5 265.5v-1.1M362.5 147.1v1.1M365.23 265.5v-1.1M365.23 147.1v1.1M383.72 265.5v-1.1M383.72 147.1v1.1M393.11 265.5v-1.1M393.11 147.1v1.1M399.78 265.5v-1.1M399.78 147.1v1.1M404.95 265.5v-1.1M404.95 147.1v1.1M409.17 265.5v-1.1M409.17 147.1v1.1M412.74 265.5v-1.1M412.74 147.1v1.1M415.83 265.5v-1.1M415.83 147.1v1.1M418.56 265.5v-1.1M418.56 147.1v1.1" stroke="#7c7c7c" stroke-width="0.7" fill="none"/>
<text x="256.9" y="269.5" font-size="11.3" text-anchor="end" font-weight="normal" fill="#262626" color="#262626" >0</text>
<text x="256.9" y="245.9" font-size="11.3" text-anchor="end" font-weight="normal" fill="#262626" color="#262626" >20</text>
<text x="256.9" y="222.3" font-size="11.3" text-anchor="end" font-weight="normal" fill="#262626" color="#262626" >40</text>
<text x="256.9" y="198.7" font-size="11.3" text-anchor="end" font-weight="normal" fill="#262626" color="#262626" >60</text>
<text x="256.9" y="175.1" font-size="11.3" text-anchor="end" font-weight="normal" fill="#262626" color="#262626" >80</text>
<text x="238.05" y="150.7" font-size="11.3" font-weight="normal" fill="#262626" color="#262626" > 00</text>
<path d="M515 0L515 1237L197 1010L197 1180L530 1409L696 1409L696 0Z" transform="translate(238.05,150.7) scale(0.00552,-0.00552)" fill="#262626" stroke="#262626" stroke-width="0.3" vector-effect="non-scaling-stroke"/>
<text x="251.67" y="283" font-size="11.3" font-weight="normal" fill="#262626" color="#262626" > 0</text>
<path d="M515 0L515 1237L197 1010L197 1180L530 1409L696 1409L696 0Z" transform="translate(251.67,283) scale(0.00552,-0.00552)" fill="#262626" stroke="#262626" stroke-width="0.3" vector-effect="non-scaling-stroke"/>
<text x="264.24" y="277.4" font-size="9.1" text-anchor="start" font-weight="normal" fill="#262626" color="#262626" >-2</text>
<text x="305.01" y="283" font-size="11.3" font-weight="normal" fill="#262626" color="#262626" > 0</text>
<path d="M515 0L515 1237L197 1010L197 1180L530 1409L696 1409L696 0Z" transform="translate(305.01,283) scale(0.00552,-0.00552)" fill="#262626" stroke="#262626" stroke-width="0.3" vector-effect="non-scaling-stroke"/>
<text x="317.57" y="277.4" font-size="9.1" font-weight="normal" fill="#262626" color="#262626" >- </text>
<path d="M515 0L515 1237L197 1010L197 1180L530 1409L696 1409L696 0Z" transform="translate(320.6,277.4) scale(0.00444,-0.00444)" fill="#262626" stroke="#262626" stroke-width="0.3" vector-effect="non-scaling-stroke"/>
<text x="358.85" y="283" font-size="11.3" font-weight="normal" fill="#262626" color="#262626" > 0</text>
<path d="M515 0L515 1237L197 1010L197 1180L530 1409L696 1409L696 0Z" transform="translate(358.85,283) scale(0.00552,-0.00552)" fill="#262626" stroke="#262626" stroke-width="0.3" vector-effect="non-scaling-stroke"/>
<text x="371.42" y="277.4" font-size="9.1" text-anchor="start" font-weight="normal" fill="#262626" color="#262626" >0</text>
<text x="412.19" y="283" font-size="11.3" font-weight="normal" fill="#262626" color="#262626" > 0</text>
<path d="M515 0L515 1237L197 1010L197 1180L530 1409L696 1409L696 0Z" transform="translate(412.19,283) scale(0.00552,-0.00552)" fill="#262626" stroke="#262626" stroke-width="0.3" vector-effect="non-scaling-stroke"/>
<text x="424.75" y="277.4" font-size="9.1" font-weight="normal" fill="#262626" color="#262626" > </text>
<path d="M515 0L515 1237L197 1010L197 1180L530 1409L696 1409L696 0Z" transform="translate(424.75,277.4) scale(0.00444,-0.00444)" fill="#262626" stroke="#262626" stroke-width="0.3" vector-effect="non-scaling-stroke"/>
<text x="0" y="0" font-size="12.6" text-anchor="middle" fill="#262626" color="#262626" transform="translate(233.3,206.3) rotate(-90)">IOTFI (I.U.)</text>
<rect x="345.9" y="154" width="58.8" height="58.8" fill="#656565"/>
<rect x="345.9" y="154" width="58.8" height="58.8" fill="#808080" filter="url(#nz)"/>
<g filter="url(#bl)"><rect x="-8.8" y="-8.8" width="17.6" height="17.6" rx="1.5" fill="#999999" stroke="#c0c0c0" stroke-width="1.8" transform="translate(375,181.3) rotate(-17.7)"/></g>
<rect x="391.4" y="207.7" width="10.5" height="1.6" fill="#ffffff"/>
<polyline points="261,197.32 261.53,197.34 262.07,197.36 262.6,197.37 263.13,197.39 263.67,197.41 264.2,197.44 264.73,197.46 265.27,197.48 265.8,197.51 266.33,197.53 266.87,197.56 267.4,197.59 267.93,197.62 268.47,197.65 269,197.68 269.53,197.71 270.07,197.75 270.6,197.79 271.13,197.82 271.67,197.86 272.2,197.91 272.73,197.95 273.27,198 273.8,198.04 274.33,198.09 274.87,198.15 275.4,198.2 275.93,198.26 276.47,198.32 277,198.38 277.53,198.45 278.07,198.52 278.6,198.59 279.13,198.66 279.67,198.74 280.2,198.82 280.73,198.9 281.27,198.99 281.8,199.09 282.33,199.18 282.87,199.28 283.4,199.39 283.93,199.5 284.47,199.61 285,199.73 285.53,199.85 286.07,199.98 286.6,200.12 287.13,200.26 287.67,200.4 288.2,200.56 288.73,200.71 289.27,200.88 289.8,201.05 290.33,201.23 290.87,201.41 291.4,201.61 291.93,201.81 292.47,202.01 293,202.23 293.53,202.45 294.07,202.69 294.6,202.93 295.13,203.18 295.67,203.44 296.2,203.71 296.73,203.98 297.27,204.27 297.8,204.57 298.33,204.88 298.87,205.2 299.4,205.53 299.93,205.86 300.47,206.21 301,206.58 301.53,206.95 302.07,207.33 302.6,207.73 303.13,208.13 303.67,208.55 304.2,208.98 304.73,209.42 305.27,209.87 305.8,210.33 306.33,210.81 306.87,211.29 307.4,211.79 307.93,212.3 308.47,212.82 309,213.35 309.53,213.88 310.07,214.43 310.6,214.99 311.13,215.56 311.67,216.14 312.2,216.72 312.73,217.31 313.27,217.92 313.8,218.52 314.33,219.14 314.87,219.76 315.4,220.38 315.93,221.02 316.47,221.65 317,222.29 317.53,222.93 318.07,223.58 318.6,224.22 319.13,224.87 319.67,225.52 320.2,226.17 320.73,226.81 321.27,227.46 321.8,228.1 322.33,228.74 322.87,229.38 323.4,230.01 323.93,230.64 324.47,231.27 325,231.89 325.53,232.5 326.07,233.1 326.6,233.7 327.13,234.29 327.67,234.88 328.2,235.45 328.73,236.02 329.27,236.58 329.8,237.13 330.33,237.67 330.87,238.2 331.4,238.72 331.93,239.24 332.47,239.74 333,240.23 333.53,240.72 334.07,241.19 334.6,241.65 335.13,242.11 335.67,242.55 336.2,242.99 336.73,243.41 337.27,243.83 337.8,244.23 338.33,244.63 338.87,245.02 339.4,245.4 339.93,245.78 340.47,246.14 341,246.5 341.53,246.84 342.07,247.19 342.6,247.52 343.13,247.85 343.67,248.17 344.2,248.48 344.73,248.79 345.27,249.09 345.8,249.39 346.33,249.68 346.87,249.97 347.4,250.25 347.93,250.52 348.47,250.8 349,251.07 349.53,251.33 350.07,251.59 350.6,251.85 351.13,252.1 351.67,252.35 352.2,252.6 352.73,252.85 353.27,253.09 353.8,253.33 354.33,253.56 354.87,253.8 355.4,254.03 355.93,254.26 356.47,254.49 357,254.72 357.53,254.94 358.07,255.17 358.6,255.39 359.13,255.61 359.67,255.83 360.2,256.04 360.73,256.26 361.27,256.47 361.8,256.68 362.33,256.89 362.87,257.09 363.4,257.3 363.93,257.5 364.47,257.7 365,257.9 365.53,258.1 366.07,258.29 366.6,258.48 367.13,258.67 367.67,258.86 368.2,259.04 368.73,259.22 369.27,259.4 369.8,259.57 370.33,259.75 370.87,259.92 371.4,260.08 371.93,260.25 372.47,260.41 373,260.56 373.53,260.72 374.07,260.87 374.6,261.01 375.13,261.16 375.67,261.3 376.2,261.44 376.73,261.57 377.27,261.7 377.8,261.83 378.33,261.95 378.87,262.07 379.4,262.19 379.93,262.3 380.47,262.41 381,262.52 381.53,262.62 382.07,262.73 382.6,262.82 383.13,262.92 383.67,263.01 384.2,263.1 384.73,263.18 385.27,263.27 385.8,263.35 386.33,263.42 386.87,263.5 387.4,263.57 387.93,263.64 388.47,263.71 389,263.77 389.53,263.84 390.07,263.9 390.6,263.95 391.13,264.01 391.67,264.06 392.2,264.11 392.73,264.16 393.27,264.21 393.8,264.26 394.33,264.3 394.87,264.34 395.4,264.38 395.93,264.42 396.47,264.46 397,264.5 397.53,264.53 398.07,264.56 398.6,264.59 399.13,264.62 399.67,264.65 400.2,264.68 400.73,264.71 401.27,264.73 401.8,264.76 402.33,264.78 402.87,264.8 403.4,264.83 403.93,264.85 404.47,264.87 405,264.89 405.53,264.9 406.07,264.92 406.6,264.94 407.13,264.95 407.67,264.97 408.2,264.98 408.73,265 409.27,265.01 409.8,265.02 410.33,265.04 410.87,265.05 411.4,265.06 411.93,265.07 412.47,265.08 413,265.09 413.53,265.1 414.07,265.11 414.6,265.12 415.13,265.12 415.67,265.13 416.2,265.14 416.73,265.15 417.27,265.15 417.8,265.16 418.33,265.17 418.87,265.17 419.4,265.18 419.93,265.18 420.47,265.19 421,265.19" fill="none" stroke="#c80000" stroke-width="2" stroke-linejoin="round"/>
<circle cx="261.8" cy="199.4" r="1.9" fill="#0072bd"/>
<circle cx="283" cy="196.4" r="1.9" fill="#0072bd"/>
<circle cx="293.8" cy="202.3" r="1.9" fill="#0072bd"/>
<circle cx="298.9" cy="206.4" r="1.9" fill="#0072bd"/>
<circle cx="309.6" cy="219.3" r="1.9" fill="#0072bd"/>
<circle cx="335.9" cy="243.7" r="1.9" fill="#0072bd"/>
<circle cx="346.6" cy="248.3" r="1.9" fill="#0072bd"/>
<circle cx="351.7" cy="250.4" r="1.9" fill="#0072bd"/>
<circle cx="362.3" cy="255.4" r="1.9" fill="#0072bd"/>
<circle cx="367.7" cy="259.4" r="1.9" fill="#0072bd"/>
<circle cx="373" cy="259.9" r="1.9" fill="#0072bd"/>
<circle cx="383.8" cy="261.9" r="1.9" fill="#0072bd"/>
<circle cx="388.9" cy="263" r="1.9" fill="#0072bd"/>
<circle cx="404.7" cy="263.9" r="1.9" fill="#0072bd"/>
<circle cx="420.5" cy="264.5" r="1.9" fill="#0072bd"/>
<text x="0" y="0" font-size="16.6" font-weight="bold" fill="#000" color="#000" transform="translate(213,152.7) scale(1.08,1)">d</text>
<rect x="48.3" y="289.5" width="160" height="118.4" fill="none" stroke="#a8a8a8" stroke-width="1"/>
<path d="M48.3 407.9h1.6M208.3 407.9h-1.6M48.3 384.22h1.6M208.3 384.22h-1.6M48.3 360.54h1.6M208.3 360.54h-1.6M48.3 336.86h1.6M208.3 336.86h-1.6M48.3 313.18h1.6M208.3 313.18h-1.6M48.3 289.5h1.6M208.3 289.5h-1.6M48.3 407.9v-1.8M48.3 289.5v1.8M101.63 407.9v-1.8M101.63 289.5v1.8M154.97 407.9v-1.8M154.97 289.5v1.8" stroke="#a8a8a8" stroke-width="0.8" fill="none"/>
<path d="M64.35 408.1v-1.1M64.35 289.3v1.1M73.75 408.1v-1.1M73.75 289.3v1.1M80.41 408.1v-1.1M80.41 289.3v1.1M85.58 408.1v-1.1M85.58 289.3v1.1M89.8 408.1v-1.1M89.8 289.3v1.1M93.37 408.1v-1.1M93.37 289.3v1.1M96.46 408.1v-1.1M96.46 289.3v1.1M99.19 408.1v-1.1M99.19 289.3v1.1M117.69 408.1v-1.1M117.69 289.3v1.1M127.08 408.1v-1.1M127.08 289.3v1.1M133.74 408.1v-1.1M133.74 289.3v1.1M138.91 408.1v-1.1M138.91 289.3v1.1M143.13 408.1v-1.1M143.13 289.3v1.1M146.71 408.1v-1.1M146.71 289.3v1.1M149.8 408.1v-1.1M149.8 289.3v1.1M152.53 408.1v-1.1M152.53 289.3v1.1M171.02 408.1v-1.1M171.02 289.3v1.1M180.41 408.1v-1.1M180.41 289.3v1.1M187.08 408.1v-1.1M187.08 289.3v1.1M192.25 408.1v-1.1M192.25 289.3v1.1M196.47 408.1v-1.1M196.47 289.3v1.1M200.04 408.1v-1.1M200.04 289.3v1.1M203.13 408.1v-1.1M203.13 289.3v1.1M205.86 408.1v-1.1M205.86 289.3v1.1" stroke="#7c7c7c" stroke-width="0.7" fill="none"/>
<text x="44.2" y="412.1" font-size="11.3" text-anchor="end" font-weight="normal" fill="#262626" color="#262626" >0</text>
<text x="44.2" y="388.42" font-size="11.3" text-anchor="end" font-weight="normal" fill="#262626" color="#262626" >20</text>
<text x="44.2" y="364.74" font-size="11.3" text-anchor="end" font-weight="normal" fill="#262626" color="#262626" >40</text>
<text x="44.2" y="341.06" font-size="11.3" text-anchor="end" font-weight="normal" fill="#262626" color="#262626" >60</text>
<text x="44.2" y="317.38" font-size="11.3" text-anchor="end" font-weight="normal" fill="#262626" color="#262626" >80</text>
<text x="25.35" y="292.9" font-size="11.3" font-weight="normal" fill="#262626" color="#262626" > 00</text>
<path d="M515 0L515 1237L197 1010L197 1180L530 1409L696 1409L696 0Z" transform="translate(25.35,292.9) scale(0.00552,-0.00552)" fill="#262626" stroke="#262626" stroke-width="0.3" vector-effect="non-scaling-stroke"/>
<text x="38.97" y="425.6" font-size="11.3" font-weight="normal" fill="#262626" color="#262626" > 0</text>
<path d="M515 0L515 1237L197 1010L197 1180L530 1409L696 1409L696 0Z" transform="translate(38.97,425.6) scale(0.00552,-0.00552)" fill="#262626" stroke="#262626" stroke-width="0.3" vector-effect="non-scaling-stroke"/>
<text x="51.54" y="420" font-size="9.1" text-anchor="start" font-weight="normal" fill="#262626" color="#262626" >-2</text>
<text x="92.31" y="425.6" font-size="11.3" font-weight="normal" fill="#262626" color="#262626" > 0</text>
<path d="M515 0L515 1237L197 1010L197 1180L530 1409L696 1409L696 0Z" transform="translate(92.31,425.6) scale(0.00552,-0.00552)" fill="#262626" stroke="#262626" stroke-width="0.3" vector-effect="non-scaling-stroke"/>
<text x="104.87" y="420" font-size="9.1" font-weight="normal" fill="#262626" color="#262626" >- </text>
<path d="M515 0L515 1237L197 1010L197 1180L530 1409L696 1409L696 0Z" transform="translate(107.9,420) scale(0.00444,-0.00444)" fill="#262626" stroke="#262626" stroke-width="0.3" vector-effect="non-scaling-stroke"/>
<text x="146.15" y="425.6" font-size="11.3" font-weight="normal" fill="#262626" color="#262626" > 0</text>
<path d="M515 0L515 1237L197 1010L197 1180L530 1409L696 1409L696 0Z" transform="translate(146.15,425.6) scale(0.00552,-0.00552)" fill="#262626" stroke="#262626" stroke-width="0.3" vector-effect="non-scaling-stroke"/>
<text x="158.72" y="420" font-size="9.1" text-anchor="start" font-weight="normal" fill="#262626" color="#262626" >0</text>
<text x="199.49" y="425.6" font-size="11.3" font-weight="normal" fill="#262626" color="#262626" > 0</text>
<path d="M515 0L515 1237L197 1010L197 1180L530 1409L696 1409L696 0Z" transform="translate(199.49,425.6) scale(0.00552,-0.00552)" fill="#262626" stroke="#262626" stroke-width="0.3" vector-effect="non-scaling-stroke"/>
<text x="212.05" y="420" font-size="9.1" font-weight="normal" fill="#262626" color="#262626" > </text>
<path d="M515 0L515 1237L197 1010L197 1180L530 1409L696 1409L696 0Z" transform="translate(212.05,420) scale(0.00444,-0.00444)" fill="#262626" stroke="#262626" stroke-width="0.3" vector-effect="non-scaling-stroke"/>
<text x="0" y="0" font-size="12.6" text-anchor="middle" fill="#262626" color="#262626" transform="translate(20.6,348.7) rotate(-90)">IOTFI (I.U.)</text>
<text x="128.3" y="440.1" font-size="12.6" text-anchor="middle" font-weight="normal" fill="#262626" color="#262626" >Frequency (Hz)</text>
<rect x="131.9" y="297" width="58.5" height="58.5" fill="#636363"/>
<rect x="131.9" y="297" width="58.5" height="58.5" fill="#808080" filter="url(#nz)"/>
<g filter="url(#bl)"><rect x="-8.7" y="-8.7" width="17.4" height="17.4" rx="1.5" fill="#949494" stroke="#bcbcbc" stroke-width="1.8" transform="translate(161,325.8) rotate(0.0)"/></g>
<rect x="176.9" y="351.9" width="10.9" height="1.6" fill="#ffffff"/>
<polyline points="48.3,366.79 48.83,366.81 49.37,366.83 49.9,366.85 50.43,366.87 50.97,366.89 51.5,366.92 52.03,366.94 52.57,366.97 53.1,366.99 53.63,367.02 54.17,367.05 54.7,367.08 55.23,367.11 55.77,367.15 56.3,367.18 56.83,367.22 57.37,367.25 57.9,367.29 58.43,367.33 58.97,367.38 59.5,367.42 60.03,367.47 60.57,367.52 61.1,367.57 61.63,367.62 62.17,367.68 62.7,367.74 63.23,367.8 63.77,367.86 64.3,367.93 64.83,367.99 65.37,368.07 65.9,368.14 66.43,368.22 66.97,368.3 67.5,368.38 68.03,368.47 68.57,368.56 69.1,368.66 69.63,368.76 70.17,368.86 70.7,368.97 71.23,369.08 71.77,369.2 72.3,369.32 72.83,369.45 73.37,369.58 73.9,369.71 74.43,369.85 74.97,370 75.5,370.15 76.03,370.31 76.57,370.47 77.1,370.64 77.63,370.81 78.17,370.99 78.7,371.18 79.23,371.37 79.77,371.57 80.3,371.78 80.83,371.99 81.37,372.21 81.9,372.44 82.43,372.67 82.97,372.91 83.5,373.16 84.03,373.41 84.57,373.67 85.1,373.94 85.63,374.21 86.17,374.5 86.7,374.79 87.23,375.08 87.77,375.39 88.3,375.7 88.83,376.01 89.37,376.34 89.9,376.67 90.43,377 90.97,377.35 91.5,377.69 92.03,378.05 92.57,378.41 93.1,378.77 93.63,379.14 94.17,379.51 94.7,379.89 95.23,380.27 95.77,380.66 96.3,381.05 96.83,381.44 97.37,381.83 97.9,382.23 98.43,382.63 98.97,383.03 99.5,383.43 100.03,383.83 100.57,384.23 101.1,384.63 101.63,385.03 102.17,385.43 102.7,385.83 103.23,386.22 103.77,386.61 104.3,387 104.83,387.39 105.37,387.77 105.9,388.15 106.43,388.53 106.97,388.9 107.5,389.27 108.03,389.63 108.57,389.99 109.1,390.34 109.63,390.69 110.17,391.03 110.7,391.36 111.23,391.69 111.77,392.01 112.3,392.33 112.83,392.64 113.37,392.94 113.9,393.24 114.43,393.53 114.97,393.81 115.5,394.09 116.03,394.36 116.57,394.63 117.1,394.89 117.63,395.14 118.17,395.39 118.7,395.63 119.23,395.86 119.77,396.09 120.3,396.31 120.83,396.53 121.37,396.74 121.9,396.95 122.43,397.15 122.97,397.34 123.5,397.54 124.03,397.72 124.57,397.91 125.1,398.08 125.63,398.26 126.17,398.43 126.7,398.59 127.23,398.75 127.77,398.91 128.3,399.07 128.83,399.22 129.37,399.37 129.9,399.52 130.43,399.66 130.97,399.8 131.5,399.94 132.03,400.07 132.57,400.21 133.1,400.34 133.63,400.47 134.17,400.6 134.7,400.72 135.23,400.85 135.77,400.97 136.3,401.09 136.83,401.22 137.37,401.34 137.9,401.45 138.43,401.57 138.97,401.69 139.5,401.81 140.03,401.92 140.57,402.04 141.1,402.15 141.63,402.26 142.17,402.37 142.7,402.49 143.23,402.6 143.77,402.71 144.3,402.82 144.83,402.93 145.37,403.04 145.9,403.14 146.43,403.25 146.97,403.36 147.5,403.46 148.03,403.57 148.57,403.67 149.1,403.78 149.63,403.88 150.17,403.98 150.7,404.08 151.23,404.18 151.77,404.28 152.3,404.38 152.83,404.48 153.37,404.57 153.9,404.67 154.43,404.76 154.97,404.85 155.5,404.94 156.03,405.03 156.57,405.12 157.1,405.2 157.63,405.29 158.17,405.37 158.7,405.45 159.23,405.53 159.77,405.61 160.3,405.68 160.83,405.76 161.37,405.83 161.9,405.9 162.43,405.97 162.97,406.04 163.5,406.1 164.03,406.17 164.57,406.23 165.1,406.29 165.63,406.35 166.17,406.4 166.7,406.46 167.23,406.51 167.77,406.57 168.3,406.62 168.83,406.67 169.37,406.71 169.9,406.76 170.43,406.8 170.97,406.85 171.5,406.89 172.03,406.93 172.57,406.97 173.1,407 173.63,407.04 174.17,407.08 174.7,407.11 175.23,407.14 175.77,407.17 176.3,407.2 176.83,407.23 177.37,407.26 177.9,407.29 178.43,407.31 178.97,407.34 179.5,407.36 180.03,407.38 180.57,407.4 181.1,407.43 181.63,407.45 182.17,407.46 182.7,407.48 183.23,407.5 183.77,407.52 184.3,407.53 184.83,407.55 185.37,407.57 185.9,407.58 186.43,407.59 186.97,407.61 187.5,407.62 188.03,407.63 188.57,407.64 189.1,407.65 189.63,407.67 190.17,407.68 190.7,407.69 191.23,407.69 191.77,407.7 192.3,407.71 192.83,407.72 193.37,407.73 193.9,407.74 194.43,407.74 194.97,407.75 195.5,407.76 196.03,407.76 196.57,407.77 197.1,407.78 197.63,407.78 198.17,407.79 198.7,407.79 199.23,407.8 199.77,407.8 200.3,407.8 200.83,407.81 201.37,407.81 201.9,407.82 202.43,407.82 202.97,407.82 203.5,407.83 204.03,407.83 204.57,407.83 205.1,407.84 205.63,407.84 206.17,407.84 206.7,407.85 207.23,407.85 207.77,407.85 208.3,407.85" fill="none" stroke="#c80000" stroke-width="2" stroke-linejoin="round"/>
<circle cx="49.3" cy="368.4" r="1.9" fill="#0072bd"/>
<circle cx="70.2" cy="367.3" r="1.9" fill="#0072bd"/>
<circle cx="80.8" cy="371.6" r="1.9" fill="#0072bd"/>
<circle cx="86.6" cy="374.7" r="1.9" fill="#0072bd"/>
<circle cx="96.6" cy="381.9" r="1.9" fill="#0072bd"/>
<circle cx="123.3" cy="396.5" r="1.9" fill="#0072bd"/>
<circle cx="133.9" cy="400.8" r="1.9" fill="#0072bd"/>
<circle cx="138.7" cy="401.7" r="1.9" fill="#0072bd"/>
<circle cx="149.6" cy="404.3" r="1.9" fill="#0072bd"/>
<circle cx="154.8" cy="404.8" r="1.9" fill="#0072bd"/>
<circle cx="159.7" cy="405.4" r="1.9" fill="#0072bd"/>
<circle cx="170.3" cy="406.6" r="1.9" fill="#0072bd"/>
<circle cx="176" cy="406.6" r="1.9" fill="#0072bd"/>
<circle cx="191.8" cy="407.4" r="1.9" fill="#0072bd"/>
<circle cx="207.6" cy="408" r="1.9" fill="#0072bd"/>
<text x="0" y="0" font-size="16.6" font-weight="bold" fill="#000" color="#000" transform="translate(0.8,298.6) scale(1.08,1)">e</text>
<rect x="261" y="289.5" width="160" height="118.4" fill="none" stroke="#a8a8a8" stroke-width="1"/>
<path d="M261 407.9h1.6M421 407.9h-1.6M261 384.22h1.6M421 384.22h-1.6M261 360.54h1.6M421 360.54h-1.6M261 336.86h1.6M421 336.86h-1.6M261 313.18h1.6M421 313.18h-1.6M261 289.5h1.6M421 289.5h-1.6M261 407.9v-1.8M261 289.5v1.8M314.33 407.9v-1.8M314.33 289.5v1.8M367.67 407.9v-1.8M367.67 289.5v1.8" stroke="#a8a8a8" stroke-width="0.8" fill="none"/>
<path d="M277.05 408.1v-1.1M277.05 289.3v1.1M286.45 408.1v-1.1M286.45 289.3v1.1M293.11 408.1v-1.1M293.11 289.3v1.1M298.28 408.1v-1.1M298.28 289.3v1.1M302.5 408.1v-1.1M302.5 289.3v1.1M306.07 408.1v-1.1M306.07 289.3v1.1M309.16 408.1v-1.1M309.16 289.3v1.1M311.89 408.1v-1.1M311.89 289.3v1.1M330.39 408.1v-1.1M330.39 289.3v1.1M339.78 408.1v-1.1M339.78 289.3v1.1M346.44 408.1v-1.1M346.44 289.3v1.1M351.61 408.1v-1.1M351.61 289.3v1.1M355.83 408.1v-1.1M355.83 289.3v1.1M359.41 408.1v-1.1M359.41 289.3v1.1M362.5 408.1v-1.1M362.5 289.3v1.1M365.23 408.1v-1.1M365.23 289.3v1.1M383.72 408.1v-1.1M383.72 289.3v1.1M393.11 408.1v-1.1M393.11 289.3v1.1M399.78 408.1v-1.1M399.78 289.3v1.1M404.95 408.1v-1.1M404.95 289.3v1.1M409.17 408.1v-1.1M409.17 289.3v1.1M412.74 408.1v-1.1M412.74 289.3v1.1M415.83 408.1v-1.1M415.83 289.3v1.1M418.56 408.1v-1.1M418.56 289.3v1.1" stroke="#7c7c7c" stroke-width="0.7" fill="none"/>
<text x="256.9" y="412.1" font-size="11.3" text-anchor="end" font-weight="normal" fill="#262626" color="#262626" >0</text>
<text x="256.9" y="388.42" font-size="11.3" text-anchor="end" font-weight="normal" fill="#262626" color="#262626" >20</text>
<text x="256.9" y="364.74" font-size="11.3" text-anchor="end" font-weight="normal" fill="#262626" color="#262626" >40</text>
<text x="256.9" y="341.06" font-size="11.3" text-anchor="end" font-weight="normal" fill="#262626" color="#262626" >60</text>
<text x="256.9" y="317.38" font-size="11.3" text-anchor="end" font-weight="normal" fill="#262626" color="#262626" >80</text>
<text x="238.05" y="292.9" font-size="11.3" font-weight="normal" fill="#262626" color="#262626" > 00</text>
<path d="M515 0L515 1237L197 1010L197 1180L530 1409L696 1409L696 0Z" transform="translate(238.05,292.9) scale(0.00552,-0.00552)" fill="#262626" stroke="#262626" stroke-width="0.3" vector-effect="non-scaling-stroke"/>
<text x="251.67" y="425.6" font-size="11.3" font-weight="normal" fill="#262626" color="#262626" > 0</text>
<path d="M515 0L515 1237L197 1010L197 1180L530 1409L696 1409L696 0Z" transform="translate(251.67,425.6) scale(0.00552,-0.00552)" fill="#262626" stroke="#262626" stroke-width="0.3" vector-effect="non-scaling-stroke"/>
<text x="264.24" y="420" font-size="9.1" text-anchor="start" font-weight="normal" fill="#262626" color="#262626" >-2</text>
<text x="305.01" y="425.6" font-size="11.3" font-weight="normal" fill="#262626" color="#262626" > 0</text>
<path d="M515 0L515 1237L197 1010L197 1180L530 1409L696 1409L696 0Z" transform="translate(305.01,425.6) scale(0.00552,-0.00552)" fill="#262626" stroke="#262626" stroke-width="0.3" vector-effect="non-scaling-stroke"/>
<text x="317.57" y="420" font-size="9.1" font-weight="normal" fill="#262626" color="#262626" >- </text>
<path d="M515 0L515 1237L197 1010L197 1180L530 1409L696 1409L696 0Z" transform="translate(320.6,420) scale(0.00444,-0.00444)" fill="#262626" stroke="#262626" stroke-width="0.3" vector-effect="non-scaling-stroke"/>
<text x="358.85" y="425.6" font-size="11.3" font-weight="normal" fill="#262626" color="#262626" > 0</text>
<path d="M515 0L515 1237L197 1010L197 1180L530 1409L696 1409L696 0Z" transform="translate(358.85,425.6) scale(0.00552,-0.00552)" fill="#262626" stroke="#262626" stroke-width="0.3" vector-effect="non-scaling-stroke"/>
<text x="371.42" y="420" font-size="9.1" text-anchor="start" font-weight="normal" fill="#262626" color="#262626" >0</text>
<text x="412.19" y="425.6" font-size="11.3" font-weight="normal" fill="#262626" color="#262626" > 0</text>
<path d="M515 0L515 1237L197 1010L197 1180L530 1409L696 1409L696 0Z" transform="translate(412.19,425.6) scale(0.00552,-0.00552)" fill="#262626" stroke="#262626" stroke-width="0.3" vector-effect="non-scaling-stroke"/>
<text x="424.75" y="420" font-size="9.1" font-weight="normal" fill="#262626" color="#262626" > </text>
<path d="M515 0L515 1237L197 1010L197 1180L530 1409L696 1409L696 0Z" transform="translate(424.75,420) scale(0.00444,-0.00444)" fill="#262626" stroke="#262626" stroke-width="0.3" vector-effect="non-scaling-stroke"/>
<text x="0" y="0" font-size="12.6" text-anchor="middle" fill="#262626" color="#262626" transform="translate(233.3,348.7) rotate(-90)">IOTFI (I.U.)</text>
<text x="341" y="440.1" font-size="12.6" text-anchor="middle" font-weight="normal" fill="#262626" color="#262626" >Frequency (Hz)</text>
<rect x="346.7" y="297" width="59.4" height="58.5" fill="#656565"/>
<rect x="346.7" y="297" width="59.4" height="58.5" fill="#808080" filter="url(#nz)"/>
<g filter="url(#bl)"><rect x="-6.2" y="-6.2" width="12.4" height="12.4" rx="1.5" fill="#969696" stroke="#bcbcbc" stroke-width="1.8" transform="translate(376,322.4) rotate(-37.3)"/></g>
<rect x="391.2" y="351.6" width="10.6" height="1.6" fill="#ffffff"/>
<polyline points="261,390.57 261.53,390.59 262.07,390.61 262.6,390.63 263.13,390.65 263.67,390.68 264.2,390.7 264.73,390.73 265.27,390.76 265.8,390.78 266.33,390.81 266.87,390.84 267.4,390.88 267.93,390.91 268.47,390.94 269,390.98 269.53,391.02 270.07,391.06 270.6,391.1 271.13,391.14 271.67,391.19 272.2,391.23 272.73,391.28 273.27,391.33 273.8,391.38 274.33,391.44 274.87,391.49 275.4,391.55 275.93,391.61 276.47,391.67 277,391.74 277.53,391.8 278.07,391.87 278.6,391.94 279.13,392.02 279.67,392.1 280.2,392.17 280.73,392.26 281.27,392.34 281.8,392.43 282.33,392.52 282.87,392.61 283.4,392.71 283.93,392.8 284.47,392.91 285,393.01 285.53,393.12 286.07,393.23 286.6,393.34 287.13,393.45 287.67,393.57 288.2,393.69 288.73,393.81 289.27,393.94 289.8,394.07 290.33,394.2 290.87,394.33 291.4,394.47 291.93,394.61 292.47,394.75 293,394.89 293.53,395.04 294.07,395.19 294.6,395.34 295.13,395.49 295.67,395.64 296.2,395.79 296.73,395.95 297.27,396.11 297.8,396.26 298.33,396.42 298.87,396.58 299.4,396.74 299.93,396.9 300.47,397.06 301,397.23 301.53,397.39 302.07,397.55 302.6,397.71 303.13,397.87 303.67,398.03 304.2,398.19 304.73,398.35 305.27,398.5 305.8,398.66 306.33,398.82 306.87,398.97 307.4,399.12 307.93,399.27 308.47,399.42 309,399.57 309.53,399.71 310.07,399.86 310.6,400 311.13,400.14 311.67,400.27 312.2,400.41 312.73,400.54 313.27,400.67 313.8,400.8 314.33,400.93 314.87,401.06 315.4,401.18 315.93,401.3 316.47,401.42 317,401.53 317.53,401.65 318.07,401.76 318.6,401.87 319.13,401.98 319.67,402.08 320.2,402.19 320.73,402.29 321.27,402.39 321.8,402.49 322.33,402.59 322.87,402.69 323.4,402.78 323.93,402.87 324.47,402.97 325,403.06 325.53,403.14 326.07,403.23 326.6,403.32 327.13,403.41 327.67,403.49 328.2,403.57 328.73,403.66 329.27,403.74 329.8,403.82 330.33,403.9 330.87,403.98 331.4,404.06 331.93,404.13 332.47,404.21 333,404.29 333.53,404.36 334.07,404.44 334.6,404.51 335.13,404.59 335.67,404.66 336.2,404.73 336.73,404.8 337.27,404.87 337.8,404.95 338.33,405.02 338.87,405.09 339.4,405.15 339.93,405.22 340.47,405.29 341,405.36 341.53,405.42 342.07,405.49 342.6,405.55 343.13,405.62 343.67,405.68 344.2,405.74 344.73,405.8 345.27,405.86 345.8,405.92 346.33,405.98 346.87,406.04 347.4,406.09 347.93,406.15 348.47,406.2 349,406.26 349.53,406.31 350.07,406.36 350.6,406.41 351.13,406.46 351.67,406.51 352.2,406.55 352.73,406.6 353.27,406.65 353.8,406.69 354.33,406.73 354.87,406.77 355.4,406.81 355.93,406.85 356.47,406.89 357,406.93 357.53,406.96 358.07,407 358.6,407.03 359.13,407.07 359.67,407.1 360.2,407.13 360.73,407.16 361.27,407.19 361.8,407.21 362.33,407.24 362.87,407.27 363.4,407.29 363.93,407.32 364.47,407.34 365,407.36 365.53,407.38 366.07,407.41 366.6,407.43 367.13,407.44 367.67,407.46 368.2,407.48 368.73,407.5 369.27,407.52 369.8,407.53 370.33,407.55 370.87,407.56 371.4,407.58 371.93,407.59 372.47,407.6 373,407.62 373.53,407.63 374.07,407.64 374.6,407.65 375.13,407.66 375.67,407.67 376.2,407.68 376.73,407.69 377.27,407.7 377.8,407.71 378.33,407.72 378.87,407.72 379.4,407.73 379.93,407.74 380.47,407.75 381,407.75 381.53,407.76 382.07,407.77 382.6,407.77 383.13,407.78 383.67,407.78 384.2,407.79 384.73,407.79 385.27,407.8 385.8,407.8 386.33,407.81 386.87,407.81 387.4,407.81 387.93,407.82 388.47,407.82 389,407.83 389.53,407.83 390.07,407.83 390.6,407.83 391.13,407.84 391.67,407.84 392.2,407.84 392.73,407.85 393.27,407.85 393.8,407.85 394.33,407.85 394.87,407.85 395.4,407.86 395.93,407.86 396.47,407.86 397,407.86 397.53,407.86 398.07,407.87 398.6,407.87 399.13,407.87 399.67,407.87 400.2,407.87 400.73,407.87 401.27,407.87 401.8,407.88 402.33,407.88 402.87,407.88 403.4,407.88 403.93,407.88 404.47,407.88 405,407.88 405.53,407.88 406.07,407.88 406.6,407.88 407.13,407.88 407.67,407.88 408.2,407.89 408.73,407.89 409.27,407.89 409.8,407.89 410.33,407.89 410.87,407.89 411.4,407.89 411.93,407.89 412.47,407.89 413,407.89 413.53,407.89 414.07,407.89 414.6,407.89 415.13,407.89 415.67,407.89 416.2,407.89 416.73,407.89 417.27,407.89 417.8,407.89 418.33,407.89 418.87,407.89 419.4,407.89 419.93,407.89 420.47,407.9 421,407.9" fill="none" stroke="#c80000" stroke-width="2" stroke-linejoin="round"/>
<circle cx="262.2" cy="390.5" r="1.9" fill="#0072bd"/>
<circle cx="283.1" cy="393.4" r="1.9" fill="#0072bd"/>
<circle cx="293.7" cy="396.8" r="1.9" fill="#0072bd"/>
<circle cx="298.9" cy="397.4" r="1.9" fill="#0072bd"/>
<circle cx="309.5" cy="400.5" r="1.9" fill="#0072bd"/>
<circle cx="336.1" cy="404.8" r="1.9" fill="#0072bd"/>
<circle cx="346.2" cy="406" r="1.9" fill="#0072bd"/>
<circle cx="351.9" cy="406.3" r="1.9" fill="#0072bd"/>
<circle cx="362.5" cy="406.8" r="1.9" fill="#0072bd"/>
<circle cx="367.7" cy="407.1" r="1.9" fill="#0072bd"/>
<circle cx="372.5" cy="407.1" r="1.9" fill="#0072bd"/>
<circle cx="383.4" cy="407.4" r="1.9" fill="#0072bd"/>
<circle cx="388.9" cy="407.7" r="1.9" fill="#0072bd"/>
<circle cx="404.7" cy="408" r="1.9" fill="#0072bd"/>
<circle cx="420.4" cy="408" r="1.9" fill="#0072bd"/>
<text x="0" y="0" font-size="16.6" font-weight="bold" fill="#000" color="#000" transform="translate(217.6,298.6) scale(1.08,1)">f</text>
<rect x="480.5" y="13.5" width="200.7" height="164.7" fill="none" stroke="#a8a8a8" stroke-width="1"/>
<path d="M480.5 178.2h2M681.2 178.2h-2M480.5 123.3h2M681.2 123.3h-2M480.5 68.4h2M681.2 68.4h-2M480.5 13.5h2M681.2 13.5h-2M480.5 178.2v-2M480.5 13.5v2M544.27 178.2v-2M544.27 13.5v2M608.03 178.2v-2M608.03 13.5v2M671.8 178.2v-2M671.8 13.5v2" stroke="#a8a8a8" stroke-width="0.8" fill="none"/>
<text x="476" y="182.4" font-size="12.0" text-anchor="end" font-weight="normal" fill="#262626" color="#262626" >0</text>
<text x="476" y="127.5" font-size="12.0" text-anchor="end" font-weight="normal" fill="#262626" color="#262626" >50</text>
<text x="455.98" y="72.6" font-size="12.0" font-weight="normal" fill="#262626" color="#262626" > 00</text>
<path d="M515 0L515 1237L197 1010L197 1180L530 1409L696 1409L696 0Z" transform="translate(455.98,72.6) scale(0.00586,-0.00586)" fill="#262626" stroke="#262626" stroke-width="0.3" vector-effect="non-scaling-stroke"/>
<text x="455.98" y="17.5" font-size="12.0" font-weight="normal" fill="#262626" color="#262626" > 50</text>
<path d="M515 0L515 1237L197 1010L197 1180L530 1409L696 1409L696 0Z" transform="translate(455.98,17.5) scale(0.00586,-0.00586)" fill="#262626" stroke="#262626" stroke-width="0.3" vector-effect="non-scaling-stroke"/>
<text x="480.5" y="194.2" font-size="12.0" text-anchor="middle" font-weight="normal" fill="#262626" color="#262626" >0</text>
<text x="530.92" y="194.2" font-size="12.0" font-weight="normal" fill="#262626" color="#262626" > 000</text>
<path d="M515 0L515 1237L197 1010L197 1180L530 1409L696 1409L696 0Z" transform="translate(530.92,194.2) scale(0.00586,-0.00586)" fill="#262626" stroke="#262626" stroke-width="0.3" vector-effect="non-scaling-stroke"/>
<text x="608.03" y="194.2" font-size="12.0" text-anchor="middle" font-weight="normal" fill="#262626" color="#262626" >2000</text>
<text x="671.8" y="194.2" font-size="12.0" text-anchor="middle" font-weight="normal" fill="#262626" color="#262626" >3000</text>
<text x="580.6" y="211.1" font-size="14.2" text-anchor="middle" font-weight="normal" fill="#262626" color="#262626" >Scattering intensity (I.U.)</text>
<text x="0" y="0" font-size="16" fill="#262626" color="#262626" text-anchor="middle" transform="translate(449.6,96.9) rotate(-90)">Optical Q<tspan font-size="10.9" dy="3.6">t</tspan><tspan dy="-3.6"> (I.U.)</tspan></text>
<circle cx="487.6" cy="176.6" r="2.2" fill="#0072bd"/>
<circle cx="551" cy="111.7" r="2.2" fill="#0072bd"/>
<circle cx="564.4" cy="113" r="2.2" fill="#0072bd"/>
<circle cx="575.9" cy="86" r="2.2" fill="#0072bd"/>
<circle cx="591.2" cy="101.5" r="2.2" fill="#0072bd"/>
<circle cx="599.8" cy="111.8" r="2.2" fill="#0072bd"/>
<circle cx="611.4" cy="114.2" r="2.2" fill="#0072bd"/>
<circle cx="567.2" cy="128.8" r="2.2" fill="#0072bd"/>
<circle cx="604.9" cy="95.1" r="2.2" fill="#0072bd"/>
<circle cx="608.6" cy="83.7" r="2.2" fill="#0072bd"/>
<circle cx="601.1" cy="79.2" r="2.2" fill="#0072bd"/>
<circle cx="592.1" cy="80.1" r="2.2" fill="#0072bd"/>
<circle cx="601.7" cy="70.7" r="2.2" fill="#0072bd"/>
<circle cx="604" cy="68.9" r="2.2" fill="#0072bd"/>
<circle cx="606.7" cy="65.3" r="2.2" fill="#0072bd"/>
<circle cx="610.2" cy="65.3" r="2.2" fill="#0072bd"/>
<circle cx="612" cy="68.9" r="2.2" fill="#0072bd"/>
<circle cx="638.7" cy="45.4" r="2.2" fill="#0072bd"/>
<circle cx="641.4" cy="79.4" r="2.2" fill="#0072bd"/>
<circle cx="651.9" cy="86.3" r="2.2" fill="#0072bd"/>
<circle cx="650.1" cy="69.5" r="2.2" fill="#0072bd"/>
<circle cx="676.7" cy="67.7" r="2.2" fill="#0072bd"/>
<circle cx="674" cy="72" r="2.2" fill="#0072bd"/>
<circle cx="502.4" cy="160.3" r="2.6" fill="#c800c8"/>
<circle cx="517.1" cy="138.2" r="2.6" fill="#c800c8"/>
<circle cx="545.1" cy="111.7" r="2.6" fill="#c800c8"/>
<circle cx="563.4" cy="104.2" r="2.6" fill="#c800c8"/>
<circle cx="603.5" cy="77" r="2.6" fill="#c800c8"/>
<circle cx="650.5" cy="67.1" r="2.6" fill="#c800c8"/>
<line x1="480.5" y1="178.2" x2="681.2" y2="38.8" stroke="#c80000" stroke-width="2"/>
<rect x="486.8" y="19.4" width="114.7" height="28.0" fill="#fff" stroke="#a8a8a8" stroke-width="0.8"/>
<circle cx="495.9" cy="27.3" r="2.2" fill="#0072bd"/>
<line x1="488.9" y1="40.4" x2="503" y2="40.4" stroke="#c80000" stroke-width="2"/>
<text x="505.2" y="31" font-size="11.3" text-anchor="start" font-weight="normal" fill="#000" color="#000" >Experimental Data</text>
<text x="505.2" y="43.9" font-size="11.3" text-anchor="start" font-weight="normal" fill="#000" color="#000" >Fitted</text>
<text x="0" y="0" font-size="16.6" font-weight="bold" fill="#000" color="#000" transform="translate(427,13.4) scale(1.08,1)">g</text>
<rect x="482.6" y="226.5" width="197.1" height="165.2" fill="none" stroke="#a8a8a8" stroke-width="1"/>
<path d="M482.6 391.7h2M679.7 391.7h-2M482.6 364.17h2M679.7 364.17h-2M482.6 336.63h2M679.7 336.63h-2M482.6 309.1h2M679.7 309.1h-2M482.6 281.57h2M679.7 281.57h-2M482.6 254.03h2M679.7 254.03h-2M482.6 226.5h2M679.7 226.5h-2M482.6 391.7v-2M482.6 226.5v2M545.27 391.7v-2M545.27 226.5v2M607.93 391.7v-2M607.93 226.5v2M670.6 391.7v-2M670.6 226.5v2" stroke="#a8a8a8" stroke-width="0.8" fill="none"/>
<text x="478.1" y="395.9" font-size="12.0" text-anchor="end" font-weight="normal" fill="#262626" color="#262626" >0</text>
<text x="478.1" y="368.37" font-size="12.0" text-anchor="end" font-weight="normal" fill="#262626" color="#262626" >0.05</text>
<text x="461.42" y="340.83" font-size="12.0" font-weight="normal" fill="#262626" color="#262626" >0. </text>
<path d="M515 0L515 1237L197 1010L197 1180L530 1409L696 1409L696 0Z" transform="translate(471.43,340.83) scale(0.00586,-0.00586)" fill="#262626" stroke="#262626" stroke-width="0.3" vector-effect="non-scaling-stroke"/>
<text x="454.74" y="313.3" font-size="12.0" font-weight="normal" fill="#262626" color="#262626" >0. 5</text>
<path d="M515 0L515 1237L197 1010L197 1180L530 1409L696 1409L696 0Z" transform="translate(464.75,313.3) scale(0.00586,-0.00586)" fill="#262626" stroke="#262626" stroke-width="0.3" vector-effect="non-scaling-stroke"/>
<text x="478.1" y="285.77" font-size="12.0" text-anchor="end" font-weight="normal" fill="#262626" color="#262626" >0.2</text>
<text x="478.1" y="258.23" font-size="12.0" text-anchor="end" font-weight="normal" fill="#262626" color="#262626" >0.25</text>
<text x="478.1" y="230.7" font-size="12.0" text-anchor="end" font-weight="normal" fill="#262626" color="#262626" >0.3</text>
<text x="482.6" y="407.7" font-size="12.0" text-anchor="middle" font-weight="normal" fill="#262626" color="#262626" >0</text>
<text x="531.92" y="407.7" font-size="12.0" font-weight="normal" fill="#262626" color="#262626" > 000</text>
<path d="M515 0L515 1237L197 1010L197 1180L530 1409L696 1409L696 0Z" transform="translate(531.92,407.7) scale(0.00586,-0.00586)" fill="#262626" stroke="#262626" stroke-width="0.3" vector-effect="non-scaling-stroke"/>
<text x="607.93" y="407.7" font-size="12.0" text-anchor="middle" font-weight="normal" fill="#262626" color="#262626" >2000</text>
<text x="670.6" y="407.7" font-size="12.0" text-anchor="middle" font-weight="normal" fill="#262626" color="#262626" >3000</text>
<text x="580.6" y="424.5" font-size="14.2" text-anchor="middle" font-weight="normal" fill="#262626" color="#262626" >Scattering intensity (I.U.)</text>
<text x="0" y="0" font-size="15.4" fill="#262626" color="#262626" text-anchor="middle" transform="translate(442.9,306.5) rotate(-90)">Q<tspan font-size="10.5" dy="3.5">s</tspan><tspan dy="-3.5">/Q</tspan><tspan font-size="10.5" dy="3.5">t</tspan></text>
<polyline points="481.9,226.5 482.6,279.54 482.6,279.55 482.6,279.59 482.6,279.65 482.6,279.74 482.61,279.85 482.61,279.98 482.62,280.14 482.62,280.33 482.62,280.53 482.63,280.76 482.64,281.01 482.64,281.29 482.65,281.58 482.66,281.89 482.67,282.23 482.68,282.58 482.69,282.95 482.7,283.34 482.71,283.75 482.72,284.18 482.74,284.61 482.75,285.07 482.76,285.54 482.78,286.02 482.79,286.51 482.81,287.02 482.82,287.54 482.84,288.06 482.86,288.6 482.88,289.15 482.9,289.7 482.92,290.26 482.94,290.83 482.96,291.41 482.98,291.99 483,292.57 483.02,293.16 483.04,293.75 483.07,294.35 483.09,294.95 483.12,295.55 483.14,296.15 483.17,296.76 483.2,297.36 483.22,297.97 483.25,298.57 483.28,299.18 483.31,299.78 483.34,300.38 483.37,300.99 483.4,301.59 483.43,302.18 483.47,302.78 483.5,303.37 483.53,303.96 483.57,304.55 483.6,305.13 483.64,305.71 483.67,306.29 483.71,306.86 483.75,307.43 483.78,308 483.82,308.56 483.86,309.12 483.9,309.67 483.94,310.22 483.98,310.76 484.02,311.3 484.07,311.83 484.11,312.36 484.15,312.89 484.2,313.41 484.24,313.93 484.29,314.44 484.33,314.94 484.38,315.44 484.43,315.94 484.47,316.43 484.52,316.92 484.57,317.4 484.62,317.88 484.67,318.35 484.72,318.82 484.77,319.28 484.83,319.74 484.88,320.19 484.93,320.64 484.98,321.08 485.04,321.52 485.09,321.96 485.15,322.38 485.21,322.81 485.26,323.23 485.32,323.65 485.38,324.06 485.44,324.46 485.5,324.87 485.56,325.26 485.62,325.66 485.68,326.05 485.74,326.43 485.8,326.81 485.87,327.19 485.93,327.56 486,327.93 486.06,328.3 486.13,328.66 486.19,329.02 486.26,329.37 486.33,329.72 486.39,330.06 486.46,330.41 486.53,330.74 486.6,331.08 486.67,331.41 486.74,331.74 486.82,332.06 486.89,332.38 486.96,332.7 487.03,333.01 487.11,333.32 487.18,333.63 487.26,333.93 487.34,334.23 487.41,334.53 487.49,334.83 487.57,335.12 487.65,335.41 487.72,335.69 487.8,335.97 487.89,336.25 487.97,336.53 488.05,336.8 488.13,337.07 488.21,337.34 488.3,337.61 488.38,337.87 488.46,338.13 488.55,338.38 488.64,338.64 488.72,338.89 488.81,339.14 488.9,339.39 488.99,339.63 489.08,339.87 489.16,340.11 489.25,340.35 489.35,340.59 489.44,340.82 489.53,341.05 489.62,341.28 489.72,341.5 489.81,341.73 489.9,341.95 490,342.17 490.09,342.39 490.19,342.6 490.29,342.82 490.39,343.03 490.48,343.24 490.58,343.44 490.68,343.65 490.78,343.85 490.88,344.05 490.98,344.25 491.09,344.45 491.19,344.65 491.29,344.84 491.4,345.03 491.5,345.23 491.61,345.41 491.71,345.6 491.82,345.79 491.92,345.97 492.03,346.15 492.14,346.33 492.25,346.51 492.36,346.69 492.47,346.87 492.58,347.04 492.69,347.21 492.8,347.39 492.91,347.56 493.03,347.72 493.14,347.89 493.25,348.06 493.37,348.22 493.48,348.38 493.6,348.54 493.72,348.7 493.84,348.86 493.95,349.02 494.07,349.18 494.19,349.33 494.31,349.48 494.43,349.64 494.55,349.79 494.67,349.94 494.8,350.09 494.92,350.23 495.04,350.38 495.17,350.52 495.29,350.67 495.42,350.81 495.54,350.95 495.67,351.09 495.8,351.23 495.92,351.37 496.05,351.5 496.18,351.64 496.31,351.78 496.44,351.91 496.57,352.04 496.7,352.17 496.84,352.3 496.97,352.43 497.1,352.56 497.24,352.69 497.37,352.82 497.51,352.94 497.64,353.07 497.78,353.19 497.91,353.31 498.05,353.44 498.19,353.56 498.33,353.68 498.47,353.8 498.61,353.91 498.75,354.03 498.89,354.15 499.03,354.26 499.18,354.38 499.32,354.49 499.46,354.61 499.61,354.72 499.75,354.83 499.9,354.94 500.04,355.05 500.19,355.16 500.34,355.27 500.49,355.38 500.64,355.48 500.79,355.59 500.94,355.7 501.09,355.8 501.24,355.9 501.39,356.01 501.54,356.11 501.69,356.21 501.85,356.31 502,356.41 502.16,356.51 502.31,356.61 502.47,356.71 502.63,356.81 502.78,356.91 502.94,357 503.1,357.1 503.26,357.19 503.42,357.29 503.58,357.38 503.74,357.47 503.9,357.57 504.06,357.66 504.23,357.75 504.39,357.84 504.55,357.93 504.72,358.02 504.88,358.11 505.05,358.2 505.22,358.29 505.38,358.37 505.55,358.46 505.72,358.55 505.89,358.63 506.06,358.72 506.23,358.8 506.4,358.89 506.57,358.97 506.74,359.05 506.92,359.14 507.09,359.22 507.26,359.3 507.44,359.38 507.61,359.46 507.79,359.54 507.97,359.62 508.14,359.7 508.32,359.78 508.5,359.86 508.68,359.94 508.86,360.01 509.04,360.09 509.22,360.17 509.4,360.24 509.58,360.32 509.77,360.39 509.95,360.47 510.13,360.54 510.32,360.61 510.5,360.69 510.69,360.76 510.87,360.83 511.06,360.9 511.25,360.97 511.44,361.05 511.63,361.12 511.82,361.19 512.01,361.26 512.2,361.33 512.39,361.39 512.58,361.46 512.77,361.53 512.96,361.6 513.16,361.67 513.35,361.73 513.55,361.8 513.74,361.87 513.94,361.93 514.14,362 514.33,362.06 514.53,362.13 514.73,362.19 514.93,362.26 515.13,362.32 515.33,362.39 515.53,362.45 515.73,362.51 515.93,362.57 516.14,362.64 516.34,362.7 516.55,362.76 516.75,362.82 516.96,362.88 517.16,362.94 517.37,363 517.58,363.06 517.78,363.12 517.99,363.18 518.2,363.24 518.41,363.3 518.62,363.36 518.83,363.41 519.04,363.47 519.26,363.53 519.47,363.59 519.68,363.64 519.9,363.7 520.11,363.75 520.33,363.81 520.54,363.87 520.76,363.92 520.98,363.98 521.19,364.03 521.41,364.09 521.63,364.14 521.85,364.19 522.07,364.25 522.29,364.3 522.51,364.35 522.73,364.41 522.96,364.46 523.18,364.51 523.4,364.56 523.63,364.62 523.85,364.67 524.08,364.72 524.31,364.77 524.53,364.82 524.76,364.87 524.99,364.92 525.22,364.97 525.45,365.02 525.68,365.07 525.91,365.12 526.14,365.17 526.37,365.22 526.6,365.27 526.84,365.32 527.07,365.36 527.31,365.41 527.54,365.46 527.78,365.51 528.01,365.55 528.25,365.6 528.49,365.65 528.72,365.69 528.96,365.74 529.2,365.79 529.44,365.83 529.68,365.88 529.92,365.92 530.17,365.97 530.41,366.02 530.65,366.06 530.89,366.1 531.14,366.15 531.38,366.19 531.63,366.24 531.88,366.28 532.12,366.33 532.37,366.37 532.62,366.41 532.87,366.46 533.11,366.5 533.36,366.54 533.61,366.58 533.87,366.63 534.12,366.67 534.37,366.71 534.62,366.75 534.88,366.79 535.13,366.83 535.38,366.88 535.64,366.92 535.9,366.96 536.15,367 536.41,367.04 536.67,367.08 536.93,367.12 537.18,367.16 537.44,367.2 537.7,367.24 537.97,367.28 538.23,367.32 538.49,367.36 538.75,367.4 539.01,367.43 539.28,367.47 539.54,367.51 539.81,367.55 540.07,367.59 540.34,367.63 540.61,367.66 540.88,367.7 541.14,367.74 541.41,367.78 541.68,367.81 541.95,367.85 542.22,367.89 542.49,367.92 542.77,367.96 543.04,368 543.31,368.03 543.59,368.07 543.86,368.11 544.13,368.14 544.41,368.18 544.69,368.21 544.96,368.25 545.24,368.28 545.52,368.32 545.8,368.35 546.08,368.39 546.36,368.42 546.64,368.46 546.92,368.49 547.2,368.53 547.48,368.56 547.77,368.6 548.05,368.63 548.33,368.66 548.62,368.7 548.9,368.73 549.19,368.76 549.48,368.8 549.76,368.83 550.05,368.86 550.34,368.9 550.63,368.93 550.92,368.96 551.21,368.99 551.5,369.03 551.79,369.06 552.09,369.09 552.38,369.12 552.67,369.15 552.97,369.18 553.26,369.22 553.56,369.25 553.85,369.28 554.15,369.31 554.45,369.34 554.74,369.37 555.04,369.4 555.34,369.43 555.64,369.46 555.94,369.5 556.24,369.53 556.54,369.56 556.85,369.59 557.15,369.62 557.45,369.65 557.76,369.68 558.06,369.71 558.37,369.74 558.67,369.76 558.98,369.79 559.28,369.82 559.59,369.85 559.9,369.88 560.21,369.91 560.52,369.94 560.83,369.97 561.14,370 561.45,370.03 561.76,370.05 562.08,370.08 562.39,370.11 562.7,370.14 563.02,370.17 563.33,370.19 563.65,370.22 563.96,370.25 564.28,370.28 564.6,370.31 564.92,370.33 565.24,370.36 565.55,370.39 565.87,370.41 566.2,370.44 566.52,370.47 566.84,370.5 567.16,370.52 567.48,370.55 567.81,370.58 568.13,370.6 568.46,370.63 568.78,370.65 569.11,370.68 569.44,370.71 569.76,370.73 570.09,370.76 570.42,370.79 570.75,370.81 571.08,370.84 571.41,370.86 571.74,370.89 572.07,370.91 572.4,370.94 572.74,370.96 573.07,370.99 573.4,371.01 573.74,371.04 574.07,371.06 574.41,371.09 574.75,371.11 575.08,371.14 575.42,371.16 575.76,371.19 576.1,371.21 576.44,371.24 576.78,371.26 577.12,371.28 577.46,371.31 577.8,371.33 578.15,371.36 578.49,371.38 578.83,371.4 579.18,371.43 579.52,371.45 579.87,371.47 580.22,371.5 580.56,371.52 580.91,371.54 581.26,371.57 581.61,371.59 581.96,371.61 582.31,371.64 582.66,371.66 583.01,371.68 583.36,371.71 583.72,371.73 584.07,371.75 584.42,371.77 584.78,371.8 585.13,371.82 585.49,371.84 585.84,371.86 586.2,371.88 586.56,371.91 586.92,371.93 587.28,371.95 587.63,371.97 587.99,371.99 588.36,372.02 588.72,372.04 589.08,372.06 589.44,372.08 589.8,372.1 590.17,372.12 590.53,372.15 590.9,372.17 591.26,372.19 591.63,372.21 592,372.23 592.36,372.25 592.73,372.27 593.1,372.29 593.47,372.31 593.84,372.33 594.21,372.36 594.58,372.38 594.95,372.4 595.32,372.42 595.7,372.44 596.07,372.46 596.44,372.48 596.82,372.5 597.2,372.52 597.57,372.54 597.95,372.56 598.33,372.58 598.7,372.6 599.08,372.62 599.46,372.64 599.84,372.66 600.22,372.68 600.6,372.7 600.98,372.72 601.37,372.74 601.75,372.76 602.13,372.78 602.52,372.8 602.9,372.81 603.29,372.83 603.67,372.85 604.06,372.87 604.45,372.89 604.83,372.91 605.22,372.93 605.61,372.95 606,372.97 606.39,372.99 606.78,373.01 607.17,373.02 607.56,373.04 607.96,373.06 608.35,373.08 608.74,373.1 609.14,373.12 609.53,373.13 609.93,373.15 610.33,373.17 610.72,373.19 611.12,373.21 611.52,373.23 611.92,373.24 612.32,373.26 612.72,373.28 613.12,373.3 613.52,373.32 613.92,373.33 614.32,373.35 614.73,373.37 615.13,373.39 615.53,373.4 615.94,373.42 616.34,373.44 616.75,373.46 617.16,373.47 617.57,373.49 617.97,373.51 618.38,373.53 618.79,373.54 619.2,373.56 619.61,373.58 620.02,373.59 620.43,373.61 620.85,373.63 621.26,373.65 621.67,373.66 622.09,373.68 622.5,373.7 622.92,373.71 623.33,373.73 623.75,373.75 624.17,373.76 624.59,373.78 625,373.8 625.42,373.81 625.84,373.83 626.26,373.85 626.69,373.86 627.11,373.88 627.53,373.89 627.95,373.91 628.38,373.93 628.8,373.94 629.22,373.96 629.65,373.97 630.08,373.99 630.5,374.01 630.93,374.02 631.36,374.04 631.78,374.05 632.21,374.07 632.64,374.09 633.07,374.1 633.5,374.12 633.94,374.13 634.37,374.15 634.8,374.16 635.23,374.18 635.67,374.19 636.1,374.21 636.54,374.23 636.97,374.24 637.41,374.26 637.85,374.27 638.28,374.29 638.72,374.3 639.16,374.32 639.6,374.33 640.04,374.35 640.48,374.36 640.92,374.38 641.37,374.39 641.81,374.41 642.25,374.42 642.69,374.44 643.14,374.45 643.58,374.47 644.03,374.48 644.48,374.5 644.92,374.51 645.37,374.52 645.82,374.54 646.27,374.55 646.72,374.57 647.17,374.58 647.62,374.6 648.07,374.61 648.52,374.63 648.97,374.64 649.43,374.65 649.88,374.67 650.33,374.68 650.79,374.7 651.24,374.71 651.7,374.72 652.16,374.74 652.61,374.75 653.07,374.77 653.53,374.78 653.99,374.79 654.45,374.81 654.91,374.82 655.37,374.84 655.83,374.85 656.29,374.86 656.76,374.88 657.22,374.89 657.69,374.9 658.15,374.92 658.62,374.93 659.08,374.95 659.55,374.96 660.01,374.97 660.48,374.99 660.95,375 661.42,375.01 661.89,375.03 662.36,375.04 662.83,375.05 663.3,375.07 663.77,375.08 664.25,375.09 664.72,375.1 665.19,375.12 665.67,375.13 666.14,375.14 666.62,375.16 667.1,375.17 667.57,375.18 668.05,375.2 668.53,375.21 669.01,375.22 669.49,375.23 669.97,375.25 670.45,375.26 670.93,375.27 671.41,375.29 671.89,375.3 672.38,375.31 672.86,375.32 673.35,375.34 673.83,375.35 674.32,375.36 674.8,375.37 675.29,375.39 675.78,375.4 676.27,375.41 676.75,375.42 677.24,375.44 677.73,375.45 678.22,375.46 678.72,375.47 679.21,375.48 679.7,375.5" fill="none" stroke="#008000" stroke-width="2" stroke-linejoin="round"/>
<polyline points="484,226.5 484.02,227.6 484.07,229.74 484.11,231.79 484.15,233.74 484.2,235.61 484.24,237.4 484.29,239.12 484.33,240.78 484.38,242.37 484.43,243.91 484.47,245.39 484.52,246.82 484.57,248.21 484.62,249.55 484.67,250.84 484.72,252.1 484.77,253.33 484.83,254.51 484.88,255.67 484.93,256.79 484.98,257.88 485.04,258.95 485.09,259.99 485.15,261 485.21,261.98 485.26,262.95 485.32,263.89 485.38,264.81 485.44,265.7 485.5,266.58 485.56,267.44 485.62,268.28 485.68,269.11 485.74,269.91 485.8,270.7 485.87,271.48 485.93,272.24 486,272.98 486.06,273.71 486.13,274.43 486.19,275.13 486.26,275.83 486.33,276.5 486.39,277.17 486.46,277.83 486.53,278.47 486.6,279.11 486.67,279.73 486.74,280.34 486.82,280.95 486.89,281.54 486.96,282.12 487.03,282.7 487.11,283.27 487.18,283.82 487.26,284.37 487.34,284.91 487.41,285.45 487.49,285.97 487.57,286.49 487.65,287 487.72,287.51 487.8,288.01 487.89,288.5 487.97,288.98 488.05,289.46 488.13,289.93 488.21,290.39 488.3,290.85 488.38,291.3 488.46,291.75 488.55,292.19 488.64,292.63 488.72,293.06 488.81,293.49 488.9,293.91 488.99,294.32 489.08,294.73 489.16,295.14 489.25,295.54 489.35,295.94 489.44,296.33 489.53,296.72 489.62,297.1 489.72,297.48 489.81,297.85 489.9,298.22 490,298.59 490.09,298.95 490.19,299.31 490.29,299.67 490.39,300.02 490.48,300.37 490.58,300.71 490.68,301.05 490.78,301.39 490.88,301.72 490.98,302.05 491.09,302.38 491.19,302.7 491.29,303.02 491.4,303.34 491.5,303.66 491.61,303.97 491.71,304.28 491.82,304.58 491.92,304.89 492.03,305.19 492.14,305.48 492.25,305.78 492.36,306.07 492.47,306.36 492.58,306.65 492.69,306.93 492.8,307.21 492.91,307.49 493.03,307.77 493.14,308.04 493.25,308.31 493.37,308.58 493.48,308.85 493.6,309.12 493.72,309.38 493.84,309.64 493.95,309.9 494.07,310.16 494.19,310.41 494.31,310.66 494.43,310.91 494.55,311.16 494.67,311.41 494.8,311.65 494.92,311.89 495.04,312.13 495.17,312.37 495.29,312.61 495.42,312.84 495.54,313.08 495.67,313.31 495.8,313.54 495.92,313.77 496.05,313.99 496.18,314.22 496.31,314.44 496.44,314.66 496.57,314.88 496.7,315.1 496.84,315.31 496.97,315.53 497.1,315.74 497.24,315.95 497.37,316.16 497.51,316.37 497.64,316.58 497.78,316.79 497.91,316.99 498.05,317.19 498.19,317.4 498.33,317.6 498.47,317.79 498.61,317.99 498.75,318.19 498.89,318.38 499.03,318.58 499.18,318.77 499.32,318.96 499.46,319.15 499.61,319.34 499.75,319.52 499.9,319.71 500.04,319.9 500.19,320.08 500.34,320.26 500.49,320.44 500.64,320.62 500.79,320.8 500.94,320.98 501.09,321.16 501.24,321.33 501.39,321.51 501.54,321.68 501.69,321.85 501.85,322.02 502,322.19 502.16,322.36 502.31,322.53 502.47,322.7 502.63,322.87 502.78,323.03 502.94,323.2 503.1,323.36 503.26,323.52 503.42,323.68 503.58,323.84 503.74,324 503.9,324.16 504.06,324.32 504.23,324.48 504.39,324.63 504.55,324.79 504.72,324.94 504.88,325.09 505.05,325.25 505.22,325.4 505.38,325.55 505.55,325.7 505.72,325.85 505.89,326 506.06,326.14 506.23,326.29 506.4,326.44 506.57,326.58 506.74,326.73 506.92,326.87 507.09,327.01 507.26,327.15 507.44,327.29 507.61,327.44 507.79,327.57 507.97,327.71 508.14,327.85 508.32,327.99 508.5,328.13 508.68,328.26 508.86,328.4 509.04,328.53 509.22,328.67 509.4,328.8 509.58,328.93 509.77,329.06 509.95,329.2 510.13,329.33 510.32,329.46 510.5,329.59 510.69,329.71 510.87,329.84 511.06,329.97 511.25,330.1 511.44,330.22 511.63,330.35 511.82,330.47 512.01,330.6 512.2,330.72 512.39,330.85 512.58,330.97 512.77,331.09 512.96,331.21 513.16,331.33 513.35,331.45 513.55,331.57 513.74,331.69 513.94,331.81 514.14,331.93 514.33,332.05 514.53,332.16 514.73,332.28 514.93,332.39 515.13,332.51 515.33,332.62 515.53,332.74 515.73,332.85 515.93,332.97 516.14,333.08 516.34,333.19 516.55,333.3 516.75,333.41 516.96,333.52 517.16,333.63 517.37,333.74 517.58,333.85 517.78,333.96 517.99,334.07 518.2,334.18 518.41,334.29 518.62,334.39 518.83,334.5 519.04,334.6 519.26,334.71 519.47,334.82 519.68,334.92 519.9,335.02 520.11,335.13 520.33,335.23 520.54,335.33 520.76,335.44 520.98,335.54 521.19,335.64 521.41,335.74 521.63,335.84 521.85,335.94 522.07,336.04 522.29,336.14 522.51,336.24 522.73,336.34 522.96,336.44 523.18,336.53 523.4,336.63 523.63,336.73 523.85,336.83 524.08,336.92 524.31,337.02 524.53,337.11 524.76,337.21 524.99,337.3 525.22,337.4 525.45,337.49 525.68,337.58 525.91,337.68 526.14,337.77 526.37,337.86 526.6,337.96 526.84,338.05 527.07,338.14 527.31,338.23 527.54,338.32 527.78,338.41 528.01,338.5 528.25,338.59 528.49,338.68 528.72,338.77 528.96,338.86 529.2,338.95 529.44,339.03 529.68,339.12 529.92,339.21 530.17,339.3 530.41,339.38 530.65,339.47 530.89,339.55 531.14,339.64 531.38,339.72 531.63,339.81 531.88,339.89 532.12,339.98 532.37,340.06 532.62,340.15 532.87,340.23 533.11,340.31 533.36,340.4 533.61,340.48 533.87,340.56 534.12,340.64 534.37,340.73 534.62,340.81 534.88,340.89 535.13,340.97 535.38,341.05 535.64,341.13 535.9,341.21 536.15,341.29 536.41,341.37 536.67,341.45 536.93,341.53 537.18,341.6 537.44,341.68 537.7,341.76 537.97,341.84 538.23,341.92 538.49,341.99 538.75,342.07 539.01,342.15 539.28,342.22 539.54,342.3 539.81,342.38 540.07,342.45 540.34,342.53 540.61,342.6 540.88,342.68 541.14,342.75 541.41,342.83 541.68,342.9 541.95,342.97 542.22,343.05 542.49,343.12 542.77,343.19 543.04,343.27 543.31,343.34 543.59,343.41 543.86,343.48 544.13,343.56 544.41,343.63 544.69,343.7 544.96,343.77 545.24,343.84 545.52,343.91 545.8,343.98 546.08,344.05 546.36,344.12 546.64,344.19 546.92,344.26 547.2,344.33 547.48,344.4 547.77,344.47 548.05,344.54 548.33,344.61 548.62,344.67 548.9,344.74 549.19,344.81 549.48,344.88 549.76,344.95 550.05,345.01 550.34,345.08 550.63,345.15 550.92,345.21 551.21,345.28 551.5,345.35 551.79,345.41 552.09,345.48 552.38,345.54 552.67,345.61 552.97,345.67 553.26,345.74 553.56,345.8 553.85,345.87 554.15,345.93 554.45,346 554.74,346.06 555.04,346.12 555.34,346.19 555.64,346.25 555.94,346.32 556.24,346.38 556.54,346.44 556.85,346.5 557.15,346.57 557.45,346.63 557.76,346.69 558.06,346.75 558.37,346.81 558.67,346.88 558.98,346.94 559.28,347 559.59,347.06 559.9,347.12 560.21,347.18 560.52,347.24 560.83,347.3 561.14,347.36 561.45,347.42 561.76,347.48 562.08,347.54 562.39,347.6 562.7,347.66 563.02,347.72 563.33,347.78 563.65,347.84 563.96,347.9 564.28,347.95 564.6,348.01 564.92,348.07 565.24,348.13 565.55,348.19 565.87,348.24 566.2,348.3 566.52,348.36 566.84,348.42 567.16,348.47 567.48,348.53 567.81,348.59 568.13,348.64 568.46,348.7 568.78,348.75 569.11,348.81 569.44,348.87 569.76,348.92 570.09,348.98 570.42,349.03 570.75,349.09 571.08,349.14 571.41,349.2 571.74,349.25 572.07,349.31 572.4,349.36 572.74,349.42 573.07,349.47 573.4,349.53 573.74,349.58 574.07,349.63 574.41,349.69 574.75,349.74 575.08,349.79 575.42,349.85 575.76,349.9 576.1,349.95 576.44,350.01 576.78,350.06 577.12,350.11 577.46,350.16 577.8,350.22 578.15,350.27 578.49,350.32 578.83,350.37 579.18,350.42 579.52,350.47 579.87,350.53 580.22,350.58 580.56,350.63 580.91,350.68 581.26,350.73 581.61,350.78 581.96,350.83 582.31,350.88 582.66,350.93 583.01,350.98 583.36,351.03 583.72,351.08 584.07,351.13 584.42,351.18 584.78,351.23 585.13,351.28 585.49,351.33 585.84,351.38 586.2,351.43 586.56,351.48 586.92,351.53 587.28,351.58 587.63,351.62 587.99,351.67 588.36,351.72 588.72,351.77 589.08,351.82 589.44,351.87 589.8,351.91 590.17,351.96 590.53,352.01 590.9,352.06 591.26,352.1 591.63,352.15 592,352.2 592.36,352.25 592.73,352.29 593.1,352.34 593.47,352.39 593.84,352.43 594.21,352.48 594.58,352.53 594.95,352.57 595.32,352.62 595.7,352.66 596.07,352.71 596.44,352.76 596.82,352.8 597.2,352.85 597.57,352.89 597.95,352.94 598.33,352.98 598.7,353.03 599.08,353.07 599.46,353.12 599.84,353.16 600.22,353.21 600.6,353.25 600.98,353.3 601.37,353.34 601.75,353.39 602.13,353.43 602.52,353.48 602.9,353.52 603.29,353.56 603.67,353.61 604.06,353.65 604.45,353.69 604.83,353.74 605.22,353.78 605.61,353.82 606,353.87 606.39,353.91 606.78,353.95 607.17,354 607.56,354.04 607.96,354.08 608.35,354.13 608.74,354.17 609.14,354.21 609.53,354.25 609.93,354.29 610.33,354.34 610.72,354.38 611.12,354.42 611.52,354.46 611.92,354.5 612.32,354.55 612.72,354.59 613.12,354.63 613.52,354.67 613.92,354.71 614.32,354.75 614.73,354.79 615.13,354.84 615.53,354.88 615.94,354.92 616.34,354.96 616.75,355 617.16,355.04 617.57,355.08 617.97,355.12 618.38,355.16 618.79,355.2 619.2,355.24 619.61,355.28 620.02,355.32 620.43,355.36 620.85,355.4 621.26,355.44 621.67,355.48 622.09,355.52 622.5,355.56 622.92,355.6 623.33,355.64 623.75,355.68 624.17,355.72 624.59,355.76 625,355.79 625.42,355.83 625.84,355.87 626.26,355.91 626.69,355.95 627.11,355.99 627.53,356.03 627.95,356.06 628.38,356.1 628.8,356.14 629.22,356.18 629.65,356.22 630.08,356.26 630.5,356.29 630.93,356.33 631.36,356.37 631.78,356.41 632.21,356.44 632.64,356.48 633.07,356.52 633.5,356.56 633.94,356.59 634.37,356.63 634.8,356.67 635.23,356.7 635.67,356.74 636.1,356.78 636.54,356.82 636.97,356.85 637.41,356.89 637.85,356.93 638.28,356.96 638.72,357 639.16,357.03 639.6,357.07 640.04,357.11 640.48,357.14 640.92,357.18 641.37,357.22 641.81,357.25 642.25,357.29 642.69,357.32 643.14,357.36 643.58,357.39 644.03,357.43 644.48,357.47 644.92,357.5 645.37,357.54 645.82,357.57 646.27,357.61 646.72,357.64 647.17,357.68 647.62,357.71 648.07,357.75 648.52,357.78 648.97,357.82 649.43,357.85 649.88,357.89 650.33,357.92 650.79,357.95 651.24,357.99 651.7,358.02 652.16,358.06 652.61,358.09 653.07,358.13 653.53,358.16 653.99,358.19 654.45,358.23 654.91,358.26 655.37,358.3 655.83,358.33 656.29,358.36 656.76,358.4 657.22,358.43 657.69,358.46 658.15,358.5 658.62,358.53 659.08,358.56 659.55,358.6 660.01,358.63 660.48,358.66 660.95,358.7 661.42,358.73 661.89,358.76 662.36,358.8 662.83,358.83 663.3,358.86 663.77,358.89 664.25,358.93 664.72,358.96 665.19,358.99 665.67,359.02 666.14,359.06 666.62,359.09 667.1,359.12 667.57,359.15 668.05,359.19 668.53,359.22 669.01,359.25 669.49,359.28 669.97,359.31 670.45,359.35 670.93,359.38 671.41,359.41 671.89,359.44 672.38,359.47 672.86,359.5 673.35,359.54 673.83,359.57 674.32,359.6 674.8,359.63 675.29,359.66 675.78,359.69 676.27,359.72 676.75,359.75 677.24,359.79 677.73,359.82 678.22,359.85 678.72,359.88 679.21,359.91 679.7,359.94" fill="none" stroke="#c80000" stroke-width="2" stroke-linejoin="round"/>
<polyline points="486.94,226.5 486.96,226.68 487.03,227.23 487.11,227.78 487.18,228.33 487.26,228.88 487.34,229.43 487.41,229.97 487.49,230.51 487.57,231.06 487.65,231.6 487.72,232.14 487.8,232.68 487.89,233.21 487.97,233.75 488.05,234.28 488.13,234.82 488.21,235.35 488.3,235.88 488.38,236.41 488.46,236.93 488.55,237.46 488.64,237.98 488.72,238.51 488.81,239.03 488.9,239.54 488.99,240.06 489.08,240.58 489.16,241.09 489.25,241.6 489.35,242.11 489.44,242.62 489.53,243.12 489.62,243.63 489.72,244.13 489.81,244.63 489.9,245.13 490,245.62 490.09,246.12 490.19,246.61 490.29,247.1 490.39,247.59 490.48,248.07 490.58,248.56 490.68,249.04 490.78,249.52 490.88,250 490.98,250.47 491.09,250.95 491.19,251.42 491.29,251.89 491.4,252.35 491.5,252.82 491.61,253.28 491.71,253.74 491.82,254.2 491.92,254.66 492.03,255.11 492.14,255.57 492.25,256.02 492.36,256.46 492.47,256.91 492.58,257.36 492.69,257.8 492.8,258.24 492.91,258.67 493.03,259.11 493.14,259.54 493.25,259.97 493.37,260.4 493.48,260.83 493.6,261.26 493.72,261.68 493.84,262.1 493.95,262.52 494.07,262.93 494.19,263.35 494.31,263.76 494.43,264.17 494.55,264.58 494.67,264.98 494.8,265.39 494.92,265.79 495.04,266.19 495.17,266.59 495.29,266.98 495.42,267.37 495.54,267.77 495.67,268.16 495.8,268.54 495.92,268.93 496.05,269.31 496.18,269.69 496.31,270.07 496.44,270.45 496.57,270.82 496.7,271.2 496.84,271.57 496.97,271.94 497.1,272.3 497.24,272.67 497.37,273.03 497.51,273.39 497.64,273.75 497.78,274.11 497.91,274.47 498.05,274.82 498.19,275.17 498.33,275.52 498.47,275.87 498.61,276.22 498.75,276.56 498.89,276.9 499.03,277.24 499.18,277.58 499.32,277.92 499.46,278.25 499.61,278.59 499.75,278.92 499.9,279.25 500.04,279.57 500.19,279.9 500.34,280.22 500.49,280.55 500.64,280.87 500.79,281.19 500.94,281.5 501.09,281.82 501.24,282.13 501.39,282.44 501.54,282.75 501.69,283.06 501.85,283.37 502,283.67 502.16,283.98 502.31,284.28 502.47,284.58 502.63,284.88 502.78,285.18 502.94,285.47 503.1,285.76 503.26,286.06 503.42,286.35 503.58,286.64 503.74,286.92 503.9,287.21 504.06,287.49 504.23,287.78 504.39,288.06 504.55,288.34 504.72,288.61 504.88,288.89 505.05,289.17 505.22,289.44 505.38,289.71 505.55,289.98 505.72,290.25 505.89,290.52 506.06,290.79 506.23,291.05 506.4,291.31 506.57,291.58 506.74,291.84 506.92,292.09 507.09,292.35 507.26,292.61 507.44,292.86 507.61,293.12 507.79,293.37 507.97,293.62 508.14,293.87 508.32,294.12 508.5,294.36 508.68,294.61 508.86,294.85 509.04,295.1 509.22,295.34 509.4,295.58 509.58,295.82 509.77,296.06 509.95,296.29 510.13,296.53 510.32,296.76 510.5,296.99 510.69,297.23 510.87,297.46 511.06,297.68 511.25,297.91 511.44,298.14 511.63,298.36 511.82,298.59 512.01,298.81 512.2,299.03 512.39,299.25 512.58,299.47 512.77,299.69 512.96,299.91 513.16,300.12 513.35,300.34 513.55,300.55 513.74,300.77 513.94,300.98 514.14,301.19 514.33,301.4 514.53,301.61 514.73,301.81 514.93,302.02 515.13,302.22 515.33,302.43 515.53,302.63 515.73,302.83 515.93,303.03 516.14,303.23 516.34,303.43 516.55,303.63 516.75,303.83 516.96,304.02 517.16,304.22 517.37,304.41 517.58,304.6 517.78,304.8 517.99,304.99 518.2,305.18 518.41,305.37 518.62,305.55 518.83,305.74 519.04,305.93 519.26,306.11 519.47,306.3 519.68,306.48 519.9,306.66 520.11,306.84 520.33,307.02 520.54,307.2 520.76,307.38 520.98,307.56 521.19,307.74 521.41,307.91 521.63,308.09 521.85,308.26 522.07,308.43 522.29,308.61 522.51,308.78 522.73,308.95 522.96,309.12 523.18,309.29 523.4,309.46 523.63,309.62 523.85,309.79 524.08,309.96 524.31,310.12 524.53,310.29 524.76,310.45 524.99,310.61 525.22,310.77 525.45,310.93 525.68,311.09 525.91,311.25 526.14,311.41 526.37,311.57 526.6,311.73 526.84,311.88 527.07,312.04 527.31,312.19 527.54,312.35 527.78,312.5 528.01,312.65 528.25,312.81 528.49,312.96 528.72,313.11 528.96,313.26 529.2,313.41 529.44,313.56 529.68,313.7 529.92,313.85 530.17,314 530.41,314.14 530.65,314.29 530.89,314.43 531.14,314.57 531.38,314.72 531.63,314.86 531.88,315 532.12,315.14 532.37,315.28 532.62,315.42 532.87,315.56 533.11,315.7 533.36,315.84 533.61,315.97 533.87,316.11 534.12,316.24 534.37,316.38 534.62,316.51 534.88,316.65 535.13,316.78 535.38,316.91 535.64,317.05 535.9,317.18 536.15,317.31 536.41,317.44 536.67,317.57 536.93,317.7 537.18,317.82 537.44,317.95 537.7,318.08 537.97,318.21 538.23,318.33 538.49,318.46 538.75,318.58 539.01,318.71 539.28,318.83 539.54,318.95 539.81,319.08 540.07,319.2 540.34,319.32 540.61,319.44 540.88,319.56 541.14,319.68 541.41,319.8 541.68,319.92 541.95,320.04 542.22,320.16 542.49,320.27 542.77,320.39 543.04,320.51 543.31,320.62 543.59,320.74 543.86,320.85 544.13,320.97 544.41,321.08 544.69,321.19 544.96,321.31 545.24,321.42 545.52,321.53 545.8,321.64 546.08,321.75 546.36,321.86 546.64,321.97 546.92,322.08 547.2,322.19 547.48,322.3 547.77,322.41 548.05,322.52 548.33,322.62 548.62,322.73 548.9,322.84 549.19,322.94 549.48,323.05 549.76,323.15 550.05,323.26 550.34,323.36 550.63,323.46 550.92,323.57 551.21,323.67 551.5,323.77 551.79,323.87 552.09,323.97 552.38,324.08 552.67,324.18 552.97,324.28 553.26,324.38 553.56,324.48 553.85,324.57 554.15,324.67 554.45,324.77 554.74,324.87 555.04,324.97 555.34,325.06 555.64,325.16 555.94,325.25 556.24,325.35 556.54,325.45 556.85,325.54 557.15,325.63 557.45,325.73 557.76,325.82 558.06,325.92 558.37,326.01 558.67,326.1 558.98,326.19 559.28,326.28 559.59,326.38 559.9,326.47 560.21,326.56 560.52,326.65 560.83,326.74 561.14,326.83 561.45,326.92 561.76,327.01 562.08,327.09 562.39,327.18 562.7,327.27 563.02,327.36 563.33,327.44 563.65,327.53 563.96,327.62 564.28,327.7 564.6,327.79 564.92,327.88 565.24,327.96 565.55,328.04 565.87,328.13 566.2,328.21 566.52,328.3 566.84,328.38 567.16,328.46 567.48,328.55 567.81,328.63 568.13,328.71 568.46,328.79 568.78,328.87 569.11,328.96 569.44,329.04 569.76,329.12 570.09,329.2 570.42,329.28 570.75,329.36 571.08,329.44 571.41,329.51 571.74,329.59 572.07,329.67 572.4,329.75 572.74,329.83 573.07,329.9 573.4,329.98 573.74,330.06 574.07,330.14 574.41,330.21 574.75,330.29 575.08,330.36 575.42,330.44 575.76,330.51 576.1,330.59 576.44,330.66 576.78,330.74 577.12,330.81 577.46,330.89 577.8,330.96 578.15,331.03 578.49,331.11 578.83,331.18 579.18,331.25 579.52,331.32 579.87,331.39 580.22,331.47 580.56,331.54 580.91,331.61 581.26,331.68 581.61,331.75 581.96,331.82 582.31,331.89 582.66,331.96 583.01,332.03 583.36,332.1 583.72,332.17 584.07,332.24 584.42,332.3 584.78,332.37 585.13,332.44 585.49,332.51 585.84,332.58 586.2,332.64 586.56,332.71 586.92,332.78 587.28,332.84 587.63,332.91 587.99,332.98 588.36,333.04 588.72,333.11 589.08,333.17 589.44,333.24 589.8,333.3 590.17,333.37 590.53,333.43 590.9,333.5 591.26,333.56 591.63,333.62 592,333.69 592.36,333.75 592.73,333.81 593.1,333.88 593.47,333.94 593.84,334 594.21,334.06 594.58,334.13 594.95,334.19 595.32,334.25 595.7,334.31 596.07,334.37 596.44,334.43 596.82,334.49 597.2,334.55 597.57,334.61 597.95,334.67 598.33,334.73 598.7,334.79 599.08,334.85 599.46,334.91 599.84,334.97 600.22,335.03 600.6,335.09 600.98,335.15 601.37,335.2 601.75,335.26 602.13,335.32 602.52,335.38 602.9,335.44 603.29,335.49 603.67,335.55 604.06,335.61 604.45,335.66 604.83,335.72 605.22,335.78 605.61,335.83 606,335.89 606.39,335.94 606.78,336 607.17,336.05 607.56,336.11 607.96,336.16 608.35,336.22 608.74,336.27 609.14,336.33 609.53,336.38 609.93,336.44 610.33,336.49 610.72,336.54 611.12,336.6 611.52,336.65 611.92,336.7 612.32,336.76 612.72,336.81 613.12,336.86 613.52,336.91 613.92,336.97 614.32,337.02 614.73,337.07 615.13,337.12 615.53,337.17 615.94,337.23 616.34,337.28 616.75,337.33 617.16,337.38 617.57,337.43 617.97,337.48 618.38,337.53 618.79,337.58 619.2,337.63 619.61,337.68 620.02,337.73 620.43,337.78 620.85,337.83 621.26,337.88 621.67,337.93 622.09,337.98 622.5,338.03 622.92,338.08 623.33,338.12 623.75,338.17 624.17,338.22 624.59,338.27 625,338.32 625.42,338.36 625.84,338.41 626.26,338.46 626.69,338.51 627.11,338.55 627.53,338.6 627.95,338.65 628.38,338.69 628.8,338.74 629.22,338.79 629.65,338.83 630.08,338.88 630.5,338.93 630.93,338.97 631.36,339.02 631.78,339.06 632.21,339.11 632.64,339.15 633.07,339.2 633.5,339.24 633.94,339.29 634.37,339.33 634.8,339.38 635.23,339.42 635.67,339.47 636.1,339.51 636.54,339.55 636.97,339.6 637.41,339.64 637.85,339.69 638.28,339.73 638.72,339.77 639.16,339.82 639.6,339.86 640.04,339.9 640.48,339.94 640.92,339.99 641.37,340.03 641.81,340.07 642.25,340.11 642.69,340.16 643.14,340.2 643.58,340.24 644.03,340.28 644.48,340.32 644.92,340.37 645.37,340.41 645.82,340.45 646.27,340.49 646.72,340.53 647.17,340.57 647.62,340.61 648.07,340.65 648.52,340.69 648.97,340.73 649.43,340.77 649.88,340.81 650.33,340.85 650.79,340.89 651.24,340.93 651.7,340.97 652.16,341.01 652.61,341.05 653.07,341.09 653.53,341.13 653.99,341.17 654.45,341.21 654.91,341.25 655.37,341.29 655.83,341.33 656.29,341.37 656.76,341.4 657.22,341.44 657.69,341.48 658.15,341.52 658.62,341.56 659.08,341.59 659.55,341.63 660.01,341.67 660.48,341.71 660.95,341.74 661.42,341.78 661.89,341.82 662.36,341.86 662.83,341.89 663.3,341.93 663.77,341.97 664.25,342 664.72,342.04 665.19,342.08 665.67,342.11 666.14,342.15 666.62,342.19 667.1,342.22 667.57,342.26 668.05,342.29 668.53,342.33 669.01,342.37 669.49,342.4 669.97,342.44 670.45,342.47 670.93,342.51 671.41,342.54 671.89,342.58 672.38,342.61 672.86,342.65 673.35,342.68 673.83,342.72 674.32,342.75 674.8,342.79 675.29,342.82 675.78,342.86 676.27,342.89 676.75,342.92 677.24,342.96 677.73,342.99 678.22,343.03 678.72,343.06 679.21,343.09 679.7,343.13" fill="none" stroke="#000" stroke-width="2" stroke-linejoin="round"/>
<circle cx="489.1" cy="312.6" r="2.2" fill="#0072bd"/>
<circle cx="551.7" cy="331.1" r="2.2" fill="#0072bd"/>
<circle cx="566.1" cy="344.1" r="2.2" fill="#0072bd"/>
<circle cx="567.9" cy="349.5" r="2.2" fill="#0072bd"/>
<circle cx="576.4" cy="344.4" r="2.2" fill="#0072bd"/>
<circle cx="601.7" cy="347.7" r="2.2" fill="#0072bd"/>
<circle cx="599.7" cy="351.1" r="2.2" fill="#0072bd"/>
<circle cx="601" cy="355.2" r="2.2" fill="#0072bd"/>
<circle cx="592.2" cy="355.9" r="2.2" fill="#0072bd"/>
<circle cx="590.9" cy="358.6" r="2.2" fill="#0072bd"/>
<circle cx="603.7" cy="358.6" r="2.2" fill="#0072bd"/>
<circle cx="606.4" cy="356.5" r="2.2" fill="#0072bd"/>
<circle cx="608.5" cy="348.4" r="2.2" fill="#0072bd"/>
<circle cx="611.9" cy="351.8" r="2.2" fill="#0072bd"/>
<circle cx="609.8" cy="352.5" r="2.2" fill="#0072bd"/>
<circle cx="640.6" cy="351.7" r="2.2" fill="#0072bd"/>
<circle cx="637.5" cy="365.2" r="2.2" fill="#0072bd"/>
<circle cx="649.6" cy="361.4" r="2.2" fill="#0072bd"/>
<circle cx="675.3" cy="358.2" r="2.2" fill="#0072bd"/>
<circle cx="673" cy="361.4" r="2.2" fill="#0072bd"/>
<circle cx="504" cy="325" r="2.6" fill="#c800c8"/>
<circle cx="518.3" cy="324.1" r="2.6" fill="#c800c8"/>
<circle cx="546.3" cy="344.3" r="2.6" fill="#c800c8"/>
<circle cx="564.7" cy="348.2" r="2.6" fill="#c800c8"/>
<circle cx="603.7" cy="343.3" r="2.6" fill="#c800c8"/>
<circle cx="649.9" cy="359.1" r="2.6" fill="#c800c8"/>
<rect x="523.7" y="232.9" width="149.6" height="50.7" fill="#fff" stroke="#a8a8a8" stroke-width="0.8"/>
<circle cx="532.4" cy="239.9" r="2.1" fill="#0072bd"/>
<line x1="526.2" y1="251.8" x2="539.8" y2="251.8" stroke="#008000" stroke-width="2"/>
<line x1="526.2" y1="264.0" x2="539.8" y2="264.0" stroke="#c80000" stroke-width="2"/>
<line x1="526.2" y1="276.2" x2="539.8" y2="276.2" stroke="#000" stroke-width="2"/>
<text x="541.8" y="243.6" font-size="10.35" text-anchor="start" font-weight="normal" fill="#000" color="#000" >Experiment Data</text>
<text x="541.8" y="255.6" font-size="10.35" font-weight="normal" fill="#000" color="#000" >Insertion depth =   unit cell</text>
<path d="M515 0L515 1237L197 1010L197 1180L530 1409L696 1409L696 0Z" transform="translate(622.07,255.6) scale(0.00505,-0.00505)" fill="#000" stroke="#000" stroke-width="0.3" vector-effect="non-scaling-stroke"/>
<text x="541.8" y="267.8" font-size="10.35" text-anchor="start" font-weight="normal" fill="#000" color="#000" >Insertion depth = 2 units cell</text>
<text x="541.8" y="280" font-size="10.35" text-anchor="start" font-weight="normal" fill="#000" color="#000" >Insertion depth = 3 units cell</text>
<polygon points="522.3,291.9 527.3,287.3 541.5,287.3 536.5,291.9" fill="#efefef"/>
<polygon points="536.5,291.9 541.5,287.3 541.5,301.5 536.5,306.1" fill="#d2d2d2"/>
<rect x="522.3" y="291.9" width="14.2" height="14.2" fill="#f6f6f6"/>
<g filter="url(#bl)">
<polygon points="526,292.4 527.2,291.2 537.5,291.2 536.3,292.4" fill="#2d4fe0"/>
<polygon points="536.3,292.4 537.5,291.2 537.5,301.1 536.3,302.3" fill="#1f3fc8"/>
<rect x="526" y="292.4" width="10.3" height="9.9" fill="#0830d0"/>
</g>
<path d="M522.3 291.9h14.2v14.2h-14.2zM522.3 291.9l5 -4.6h14.2l-5 4.6M541.5 287.3v14.2l-5 4.6" fill="none" stroke="#6a6a6a" stroke-width="0.7" stroke-linejoin="round"/>
<polygon points="639.3,309.2 647.2,302 671.3,302 663.4,309.2" fill="#efefef"/>
<polygon points="663.4,309.2 671.3,302 671.3,326.1 663.4,333.3" fill="#d2d2d2"/>
<rect x="639.3" y="309.2" width="24.1" height="24.1" fill="#f6f6f6"/>
<g filter="url(#bl)">
<polygon points="643,310.6 647,306.1 667,306.1 663,310.6" fill="#2d4fe0"/>
<polygon points="663,310.6 667,306.1 667,325.1 663,329.6" fill="#1f3fc8"/>
<rect x="643" y="310.6" width="20" height="19" fill="#0830d0"/>
</g>
<path d="M639.3 309.2h24.1v24.1h-24.1zM639.3 309.2l7.9 -7.2h24.1l-7.9 7.2M671.3 302v24.1l-7.9 7.2" fill="none" stroke="#6a6a6a" stroke-width="0.7" stroke-linejoin="round"/>
<text x="0" y="0" font-size="16.6" font-weight="bold" fill="#000" color="#000" transform="translate(426.8,222.5) scale(1.08,1)">h</text>
</svg>
</body></html>
